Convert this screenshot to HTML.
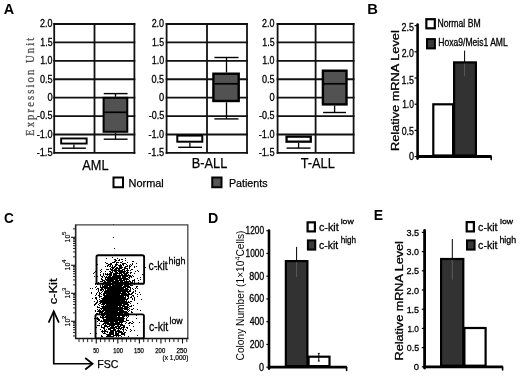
<!DOCTYPE html>
<html><head><meta charset="utf-8"><style>
html,body{margin:0;padding:0;background:#fff;overflow:hidden;}
svg{display:block;will-change:transform;}
</style></head><body>
<svg width="520" height="377" viewBox="0 0 520 377">
<rect width="520" height="377" fill="#fff"/>
<text x="3.74" y="14.3" font-size="14.3" font-weight="bold" font-family='"Liberation Sans", sans-serif' textLength="10.38" lengthAdjust="spacingAndGlyphs" fill="#000">A</text>
<line x1="53.300000000000004" y1="24.0" x2="135.3" y2="24.0" stroke="#111" stroke-width="1.8" stroke-linecap="butt"/>
<text x="40.05" y="27.3" font-size="10.4" font-family='"Liberation Sans", sans-serif' textLength="12.46" lengthAdjust="spacingAndGlyphs" fill="#000" stroke="#000" stroke-width="0.3">2.0</text>
<line x1="53.300000000000004" y1="42.415" x2="135.3" y2="42.415" stroke="#111" stroke-width="1.8" stroke-linecap="butt"/>
<text x="40.34" y="45.71" font-size="10.4" font-family='"Liberation Sans", sans-serif' textLength="12.21" lengthAdjust="spacingAndGlyphs" fill="#000" stroke="#000" stroke-width="0.3">1.5</text>
<line x1="53.300000000000004" y1="60.83" x2="135.3" y2="60.83" stroke="#111" stroke-width="1.8" stroke-linecap="butt"/>
<text x="40.13" y="64.13" font-size="10.4" font-family='"Liberation Sans", sans-serif' textLength="12.38" lengthAdjust="spacingAndGlyphs" fill="#000" stroke="#000" stroke-width="0.3">1.0</text>
<line x1="53.300000000000004" y1="79.245" x2="135.3" y2="79.245" stroke="#111" stroke-width="1.8" stroke-linecap="butt"/>
<text x="39.88" y="82.55" font-size="10.4" font-family='"Liberation Sans", sans-serif' textLength="12.69" lengthAdjust="spacingAndGlyphs" fill="#000" stroke="#000" stroke-width="0.3">0.5</text>
<line x1="53.300000000000004" y1="97.66" x2="135.3" y2="97.66" stroke="#111" stroke-width="1.8" stroke-linecap="butt"/>
<text x="47.38" y="100.96" font-size="10.4" font-family='"Liberation Sans", sans-serif' textLength="5.16" lengthAdjust="spacingAndGlyphs" fill="#000" stroke="#000" stroke-width="0.3">0</text>
<line x1="53.300000000000004" y1="116.07499999999999" x2="135.3" y2="116.07499999999999" stroke="#111" stroke-width="1.8" stroke-linecap="butt"/>
<text x="37.04" y="119.37" font-size="10.4" font-family='"Liberation Sans", sans-serif' textLength="15.55" lengthAdjust="spacingAndGlyphs" fill="#000" stroke="#000" stroke-width="0.3">-0.5</text>
<line x1="53.300000000000004" y1="134.49" x2="135.3" y2="134.49" stroke="#111" stroke-width="1.8" stroke-linecap="butt"/>
<text x="36.84" y="137.79" font-size="10.4" font-family='"Liberation Sans", sans-serif' textLength="15.71" lengthAdjust="spacingAndGlyphs" fill="#000" stroke="#000" stroke-width="0.3">-1.0</text>
<line x1="53.300000000000004" y1="152.905" x2="135.3" y2="152.905" stroke="#111" stroke-width="1.8" stroke-linecap="butt"/>
<text x="36.63" y="156.21" font-size="10.4" font-family='"Liberation Sans", sans-serif' textLength="15.97" lengthAdjust="spacingAndGlyphs" fill="#000" stroke="#000" stroke-width="0.3">-1.5</text>
<line x1="54.2" y1="23.1" x2="54.2" y2="153.805" stroke="#111" stroke-width="1.8" stroke-linecap="butt"/>
<line x1="94.5" y1="24.0" x2="94.5" y2="152.905" stroke="#111" stroke-width="1.8" stroke-linecap="butt"/>
<line x1="134.4" y1="23.1" x2="134.4" y2="153.805" stroke="#111" stroke-width="1.8" stroke-linecap="butt"/>
<line x1="165.7" y1="24.0" x2="247.9" y2="24.0" stroke="#111" stroke-width="1.8" stroke-linecap="butt"/>
<text x="151.65" y="27.3" font-size="10.4" font-family='"Liberation Sans", sans-serif' textLength="12.46" lengthAdjust="spacingAndGlyphs" fill="#000" stroke="#000" stroke-width="0.3">2.0</text>
<line x1="165.7" y1="42.415" x2="247.9" y2="42.415" stroke="#111" stroke-width="1.8" stroke-linecap="butt"/>
<text x="151.94" y="45.71" font-size="10.4" font-family='"Liberation Sans", sans-serif' textLength="12.21" lengthAdjust="spacingAndGlyphs" fill="#000" stroke="#000" stroke-width="0.3">1.5</text>
<line x1="165.7" y1="60.83" x2="247.9" y2="60.83" stroke="#111" stroke-width="1.8" stroke-linecap="butt"/>
<text x="151.73" y="64.13" font-size="10.4" font-family='"Liberation Sans", sans-serif' textLength="12.38" lengthAdjust="spacingAndGlyphs" fill="#000" stroke="#000" stroke-width="0.3">1.0</text>
<line x1="165.7" y1="79.245" x2="247.9" y2="79.245" stroke="#111" stroke-width="1.8" stroke-linecap="butt"/>
<text x="151.48" y="82.55" font-size="10.4" font-family='"Liberation Sans", sans-serif' textLength="12.69" lengthAdjust="spacingAndGlyphs" fill="#000" stroke="#000" stroke-width="0.3">0.5</text>
<line x1="165.7" y1="97.66" x2="247.9" y2="97.66" stroke="#111" stroke-width="1.8" stroke-linecap="butt"/>
<text x="158.98" y="100.96" font-size="10.4" font-family='"Liberation Sans", sans-serif' textLength="5.16" lengthAdjust="spacingAndGlyphs" fill="#000" stroke="#000" stroke-width="0.3">0</text>
<line x1="165.7" y1="116.07499999999999" x2="247.9" y2="116.07499999999999" stroke="#111" stroke-width="1.8" stroke-linecap="butt"/>
<text x="148.64" y="119.37" font-size="10.4" font-family='"Liberation Sans", sans-serif' textLength="15.55" lengthAdjust="spacingAndGlyphs" fill="#000" stroke="#000" stroke-width="0.3">-0.5</text>
<line x1="165.7" y1="134.49" x2="247.9" y2="134.49" stroke="#111" stroke-width="1.8" stroke-linecap="butt"/>
<text x="148.44" y="137.79" font-size="10.4" font-family='"Liberation Sans", sans-serif' textLength="15.71" lengthAdjust="spacingAndGlyphs" fill="#000" stroke="#000" stroke-width="0.3">-1.0</text>
<line x1="165.7" y1="152.905" x2="247.9" y2="152.905" stroke="#111" stroke-width="1.8" stroke-linecap="butt"/>
<text x="148.23" y="156.21" font-size="10.4" font-family='"Liberation Sans", sans-serif' textLength="15.97" lengthAdjust="spacingAndGlyphs" fill="#000" stroke="#000" stroke-width="0.3">-1.5</text>
<line x1="166.6" y1="23.1" x2="166.6" y2="153.805" stroke="#111" stroke-width="1.8" stroke-linecap="butt"/>
<line x1="207.0" y1="24.0" x2="207.0" y2="152.905" stroke="#111" stroke-width="1.8" stroke-linecap="butt"/>
<line x1="247.0" y1="23.1" x2="247.0" y2="153.805" stroke="#111" stroke-width="1.8" stroke-linecap="butt"/>
<line x1="276.70000000000005" y1="24.0" x2="354.5" y2="24.0" stroke="#111" stroke-width="1.8" stroke-linecap="butt"/>
<text x="262.05" y="27.3" font-size="10.4" font-family='"Liberation Sans", sans-serif' textLength="12.46" lengthAdjust="spacingAndGlyphs" fill="#000" stroke="#000" stroke-width="0.3">2.0</text>
<line x1="276.70000000000005" y1="42.415" x2="354.5" y2="42.415" stroke="#111" stroke-width="1.8" stroke-linecap="butt"/>
<text x="262.34" y="45.71" font-size="10.4" font-family='"Liberation Sans", sans-serif' textLength="12.21" lengthAdjust="spacingAndGlyphs" fill="#000" stroke="#000" stroke-width="0.3">1.5</text>
<line x1="276.70000000000005" y1="60.83" x2="354.5" y2="60.83" stroke="#111" stroke-width="1.8" stroke-linecap="butt"/>
<text x="262.13" y="64.13" font-size="10.4" font-family='"Liberation Sans", sans-serif' textLength="12.38" lengthAdjust="spacingAndGlyphs" fill="#000" stroke="#000" stroke-width="0.3">1.0</text>
<line x1="276.70000000000005" y1="79.245" x2="354.5" y2="79.245" stroke="#111" stroke-width="1.8" stroke-linecap="butt"/>
<text x="261.88" y="82.55" font-size="10.4" font-family='"Liberation Sans", sans-serif' textLength="12.69" lengthAdjust="spacingAndGlyphs" fill="#000" stroke="#000" stroke-width="0.3">0.5</text>
<line x1="276.70000000000005" y1="97.66" x2="354.5" y2="97.66" stroke="#111" stroke-width="1.8" stroke-linecap="butt"/>
<text x="269.38" y="100.96" font-size="10.4" font-family='"Liberation Sans", sans-serif' textLength="5.16" lengthAdjust="spacingAndGlyphs" fill="#000" stroke="#000" stroke-width="0.3">0</text>
<line x1="276.70000000000005" y1="116.07499999999999" x2="354.5" y2="116.07499999999999" stroke="#111" stroke-width="1.8" stroke-linecap="butt"/>
<text x="259.04" y="119.37" font-size="10.4" font-family='"Liberation Sans", sans-serif' textLength="15.55" lengthAdjust="spacingAndGlyphs" fill="#000" stroke="#000" stroke-width="0.3">-0.5</text>
<line x1="276.70000000000005" y1="134.49" x2="354.5" y2="134.49" stroke="#111" stroke-width="1.8" stroke-linecap="butt"/>
<text x="258.84" y="137.79" font-size="10.4" font-family='"Liberation Sans", sans-serif' textLength="15.71" lengthAdjust="spacingAndGlyphs" fill="#000" stroke="#000" stroke-width="0.3">-1.0</text>
<line x1="276.70000000000005" y1="152.905" x2="354.5" y2="152.905" stroke="#111" stroke-width="1.8" stroke-linecap="butt"/>
<text x="258.63" y="156.21" font-size="10.4" font-family='"Liberation Sans", sans-serif' textLength="15.97" lengthAdjust="spacingAndGlyphs" fill="#000" stroke="#000" stroke-width="0.3">-1.5</text>
<line x1="277.6" y1="23.1" x2="277.6" y2="153.805" stroke="#111" stroke-width="1.8" stroke-linecap="butt"/>
<line x1="315.6" y1="24.0" x2="315.6" y2="152.905" stroke="#111" stroke-width="1.8" stroke-linecap="butt"/>
<line x1="353.6" y1="23.1" x2="353.6" y2="153.805" stroke="#111" stroke-width="1.8" stroke-linecap="butt"/>
<line x1="73.9" y1="144.5" x2="73.9" y2="148.2" stroke="#000" stroke-width="1.3" stroke-linecap="butt"/>
<line x1="61.9" y1="148.2" x2="85.9" y2="148.2" stroke="#000" stroke-width="1.4" stroke-linecap="butt"/>
<rect x="61.15" y="138.45" width="25.50" height="5.10" fill="#fff" stroke="#000" stroke-width="1.9"/>
<line x1="115.5" y1="93.6" x2="115.5" y2="96.8" stroke="#000" stroke-width="1.3" stroke-linecap="butt"/>
<line x1="103.75" y1="93.6" x2="127.6" y2="93.6" stroke="#000" stroke-width="1.4" stroke-linecap="butt"/>
<line x1="115.5" y1="132.8" x2="115.5" y2="139.2" stroke="#000" stroke-width="1.3" stroke-linecap="butt"/>
<line x1="103.75" y1="139.2" x2="127.6" y2="139.2" stroke="#000" stroke-width="1.4" stroke-linecap="butt"/>
<rect x="103.60" y="97.80" width="23.70" height="34.00" fill="#525252" stroke="#000" stroke-width="2.0"/>
<line x1="103.6" y1="112.3" x2="127.30000000000001" y2="112.3" stroke="#000" stroke-width="1.7" stroke-linecap="butt"/>
<line x1="189.9" y1="142.7" x2="189.9" y2="147.3" stroke="#000" stroke-width="1.3" stroke-linecap="butt"/>
<line x1="178.2" y1="147.3" x2="202.0" y2="147.3" stroke="#000" stroke-width="1.4" stroke-linecap="butt"/>
<rect x="177.30" y="135.60" width="25.00" height="6.10" fill="#fff" stroke="#000" stroke-width="2.0"/>
<line x1="226.5" y1="57.5" x2="226.5" y2="72.5" stroke="#000" stroke-width="1.3" stroke-linecap="butt"/>
<line x1="214.4" y1="57.5" x2="238.5" y2="57.5" stroke="#000" stroke-width="1.4" stroke-linecap="butt"/>
<line x1="226.5" y1="102.2" x2="226.5" y2="118.9" stroke="#000" stroke-width="1.3" stroke-linecap="butt"/>
<line x1="214.4" y1="118.9" x2="238.5" y2="118.9" stroke="#000" stroke-width="1.4" stroke-linecap="butt"/>
<rect x="213.40" y="73.70" width="25.30" height="27.30" fill="#525252" stroke="#000" stroke-width="2.4"/>
<line x1="213.39999999999998" y1="83.8" x2="238.70000000000002" y2="83.8" stroke="#000" stroke-width="1.7" stroke-linecap="butt"/>
<line x1="298.6" y1="142.8" x2="298.6" y2="148.1" stroke="#000" stroke-width="1.3" stroke-linecap="butt"/>
<line x1="286.6" y1="148.1" x2="310.5" y2="148.1" stroke="#000" stroke-width="1.4" stroke-linecap="butt"/>
<rect x="286.55" y="136.65" width="24.20" height="5.00" fill="#fff" stroke="#000" stroke-width="2.3"/>
<line x1="334.6" y1="105.6" x2="334.6" y2="112.5" stroke="#000" stroke-width="1.3" stroke-linecap="butt"/>
<line x1="323.1" y1="112.5" x2="346.0" y2="112.5" stroke="#000" stroke-width="1.4" stroke-linecap="butt"/>
<rect x="322.90" y="70.70" width="23.60" height="33.70" fill="#525252" stroke="#000" stroke-width="2.4"/>
<line x1="322.9" y1="83.8" x2="346.5" y2="83.8" stroke="#000" stroke-width="1.7" stroke-linecap="butt"/>
<text x="82.25" y="169.75" font-size="15.0" font-family='"Liberation Sans", sans-serif' textLength="26.25" lengthAdjust="spacingAndGlyphs" fill="#000" stroke="#000" stroke-width="0.25">AML</text>
<text x="191.73" y="168.1" font-size="14.5" font-family='"Liberation Sans", sans-serif' textLength="35.55" lengthAdjust="spacingAndGlyphs" fill="#000" stroke="#000" stroke-width="0.25">B-ALL</text>
<text x="300.74" y="168.1" font-size="14.8" font-family='"Liberation Sans", sans-serif' textLength="34.08" lengthAdjust="spacingAndGlyphs" fill="#000" stroke="#000" stroke-width="0.25">T-ALL</text>
<g transform="translate(34.3 135.9) rotate(-90) scale(0.86 1)"><text x="0" y="0" font-size="12.4" font-family='"Liberation Serif", serif' fill="#4a4a4a" stroke="#555" stroke-width="0.3" textLength="114.2" lengthAdjust="spacing">Expression Unit</text></g>
<rect x="113.50" y="177.50" width="9.50" height="9.75" fill="#fff" stroke="#000" stroke-width="2.0"/>
<text x="128.52" y="186.6" font-size="11.6" font-family='"Liberation Sans", sans-serif' textLength="35.26" lengthAdjust="spacingAndGlyphs" fill="#000" stroke="#000" stroke-width="0.25">Normal</text>
<rect x="212.25" y="177.50" width="9.25" height="9.75" fill="#555" stroke="#000" stroke-width="2.0"/>
<text x="228.89" y="186.6" font-size="11.6" font-family='"Liberation Sans", sans-serif' textLength="38.71" lengthAdjust="spacingAndGlyphs" fill="#000" stroke="#000" stroke-width="0.25">Patients</text>
<text x="367.24" y="14.3" font-size="14.6" font-weight="bold" font-family='"Liberation Sans", sans-serif' textLength="10.69" lengthAdjust="spacingAndGlyphs" fill="#000">B</text>
<line x1="417.6" y1="24.6" x2="417.6" y2="158.6" stroke="#000" stroke-width="2.6" stroke-linecap="round"/>
<line x1="416.6" y1="156.6" x2="491.5" y2="156.6" stroke="#000" stroke-width="3.0" stroke-linecap="butt"/>
<line x1="491.2" y1="156.6" x2="491.2" y2="159.6" stroke="#000" stroke-width="1.6" stroke-linecap="round"/>
<line x1="414.6" y1="156.6" x2="417" y2="156.6" stroke="#000" stroke-width="1.2" stroke-linecap="butt"/>
<text x="408.88" y="159.6" font-size="10.2" font-family='"Liberation Sans", sans-serif' textLength="5.05" lengthAdjust="spacingAndGlyphs" fill="#000" stroke="#000" stroke-width="0.3">0</text>
<line x1="414.6" y1="130.4" x2="417" y2="130.4" stroke="#000" stroke-width="1.2" stroke-linecap="butt"/>
<text x="401.69" y="134.8" font-size="10.2" font-family='"Liberation Sans", sans-serif' textLength="12.26" lengthAdjust="spacingAndGlyphs" fill="#000" stroke="#000" stroke-width="0.3">0.5</text>
<line x1="414.6" y1="104.19999999999999" x2="417" y2="104.19999999999999" stroke="#000" stroke-width="1.2" stroke-linecap="butt"/>
<text x="402.17" y="108.2" font-size="10.2" font-family='"Liberation Sans", sans-serif' textLength="11.73" lengthAdjust="spacingAndGlyphs" fill="#000" stroke="#000" stroke-width="0.3">1.0</text>
<line x1="414.6" y1="78.0" x2="417" y2="78.0" stroke="#000" stroke-width="1.2" stroke-linecap="butt"/>
<text x="401.53" y="83.5" font-size="10.2" font-family='"Liberation Sans", sans-serif' textLength="12.43" lengthAdjust="spacingAndGlyphs" fill="#000" stroke="#000" stroke-width="0.3">1.5</text>
<line x1="414.6" y1="51.8" x2="417" y2="51.8" stroke="#000" stroke-width="1.2" stroke-linecap="butt"/>
<text x="401.76" y="56.5" font-size="10.2" font-family='"Liberation Sans", sans-serif' textLength="12.14" lengthAdjust="spacingAndGlyphs" fill="#000" stroke="#000" stroke-width="0.3">2.0</text>
<line x1="414.6" y1="25.599999999999994" x2="417" y2="25.599999999999994" stroke="#000" stroke-width="1.2" stroke-linecap="butt"/>
<text x="401.55" y="31.4" font-size="10.2" font-family='"Liberation Sans", sans-serif' textLength="12.40" lengthAdjust="spacingAndGlyphs" fill="#000" stroke="#000" stroke-width="0.3">2.5</text>
<rect x="433.30" y="104.30" width="19.80" height="51.20" fill="#fff" stroke="#000" stroke-width="2.2"/>
<line x1="464.6" y1="50.6" x2="464.6" y2="63" stroke="#000" stroke-width="1.0" stroke-linecap="butt"/>
<rect x="454.10" y="62.40" width="21.80" height="93.10" fill="#323232" stroke="#000" stroke-width="2.2"/>
<line x1="464.6" y1="63.5" x2="464.6" y2="76.3" stroke="#5a5a5a" stroke-width="1.0" stroke-linecap="butt"/>
<rect x="426.35" y="19.20" width="8.45" height="9.10" fill="#fff" stroke="#000" stroke-width="2.2"/>
<text x="437.41" y="26.9" font-size="10.5" font-family='"Liberation Sans", sans-serif' textLength="43.25" lengthAdjust="spacingAndGlyphs" fill="#000" stroke="#000" stroke-width="0.3">Normal BM</text>
<rect x="427.00" y="39.10" width="7.90" height="9.30" fill="#3a3a3a" stroke="#000" stroke-width="2.0"/>
<text x="438.32" y="46.3" font-size="10.2" font-family='"Liberation Sans", sans-serif' textLength="69.44" lengthAdjust="spacingAndGlyphs" fill="#000" stroke="#000" stroke-width="0.3">Hoxa9/Meis1 AML</text>
<text x="398.7" y="151.02" font-size="10.5" font-family='"Liberation Sans", sans-serif' textLength="120.84" lengthAdjust="spacingAndGlyphs" transform="rotate(-90 398.7 151.02)" fill="#000" stroke="#000" stroke-width="0.3">Relative mRNA Level</text>
<text x="3.96" y="222.5" font-size="14.6" font-weight="bold" font-family='"Liberation Sans", sans-serif' textLength="9.81" lengthAdjust="spacingAndGlyphs" fill="#000">C</text>
<path d="M90 288h1v1h-1zM90 333h1v1h-1zM91 292h1v1h-1zM91 293h1v1h-1zM92 288h1v1h-1zM92 298h1v1h-1zM93 273h1v1h-1zM94 272h1v1h-1zM94 276h1v1h-1zM94 301h1v1h-1zM94 304h1v1h-1zM94 305h1v1h-1zM94 318h1v1h-1zM95 271h1v1h-1zM95 283h1v1h-1zM95 284h1v1h-1zM95 287h1v1h-1zM95 295h1v1h-1zM95 297h1v1h-1zM95 298h1v1h-1zM95 303h1v1h-1zM95 304h1v1h-1zM95 310h1v1h-1zM95 311h1v1h-1zM95 317h1v1h-1zM95 323h1v1h-1zM96 276h1v1h-1zM96 283h1v1h-1zM96 286h1v1h-1zM96 289h1v1h-1zM96 293h1v1h-1zM96 294h1v1h-1zM96 297h1v1h-1zM96 298h1v1h-1zM96 299h1v1h-1zM96 302h1v1h-1zM96 303h1v1h-1zM96 313h1v1h-1zM96 314h1v1h-1zM96 318h1v1h-1zM96 327h1v1h-1zM96 333h1v1h-1zM97 264h1v1h-1zM97 276h1v1h-1zM97 284h1v1h-1zM97 288h1v1h-1zM97 292h1v1h-1zM97 300h1v1h-1zM97 301h1v1h-1zM97 302h1v1h-1zM97 306h1v1h-1zM97 307h1v1h-1zM97 309h1v1h-1zM97 311h1v1h-1zM97 313h1v1h-1zM97 317h1v1h-1zM97 318h1v1h-1zM97 319h1v1h-1zM97 321h1v1h-1zM97 325h1v1h-1zM98 282h1v1h-1zM98 288h1v1h-1zM98 289h1v1h-1zM98 290h1v1h-1zM98 291h1v1h-1zM98 295h1v1h-1zM98 304h1v1h-1zM98 307h1v1h-1zM98 310h1v1h-1zM98 311h1v1h-1zM98 314h1v1h-1zM98 318h1v1h-1zM98 319h1v1h-1zM98 320h1v1h-1zM98 325h1v1h-1zM99 283h1v1h-1zM99 292h1v1h-1zM99 293h1v1h-1zM99 294h1v1h-1zM99 295h1v1h-1zM99 296h1v1h-1zM99 297h1v1h-1zM99 299h1v1h-1zM99 301h1v1h-1zM99 303h1v1h-1zM99 305h1v1h-1zM99 307h1v1h-1zM99 309h1v1h-1zM99 310h1v1h-1zM99 311h1v1h-1zM99 312h1v1h-1zM99 313h1v1h-1zM99 319h1v1h-1zM99 320h1v1h-1zM99 323h1v1h-1zM99 325h1v1h-1zM100 270h1v1h-1zM100 272h1v1h-1zM100 274h1v1h-1zM100 275h1v1h-1zM100 281h1v1h-1zM100 283h1v1h-1zM100 285h1v1h-1zM100 286h1v1h-1zM100 287h1v1h-1zM100 289h1v1h-1zM100 290h1v1h-1zM100 293h1v1h-1zM100 296h1v1h-1zM100 300h1v1h-1zM100 301h1v1h-1zM100 302h1v1h-1zM100 303h1v1h-1zM100 308h1v1h-1zM100 310h1v1h-1zM100 311h1v1h-1zM100 312h1v1h-1zM100 316h1v1h-1zM100 317h1v1h-1zM100 321h1v1h-1zM100 329h1v1h-1zM101 269h1v1h-1zM101 271h1v1h-1zM101 276h1v1h-1zM101 278h1v1h-1zM101 279h1v1h-1zM101 281h1v1h-1zM101 287h1v1h-1zM101 288h1v1h-1zM101 289h1v1h-1zM101 290h1v1h-1zM101 292h1v1h-1zM101 294h1v1h-1zM101 296h1v1h-1zM101 298h1v1h-1zM101 300h1v1h-1zM101 301h1v1h-1zM101 302h1v1h-1zM101 304h1v1h-1zM101 306h1v1h-1zM101 308h1v1h-1zM101 309h1v1h-1zM101 311h1v1h-1zM101 312h1v1h-1zM101 313h1v1h-1zM101 314h1v1h-1zM101 315h1v1h-1zM101 317h1v1h-1zM101 320h1v1h-1zM101 321h1v1h-1zM101 325h1v1h-1zM101 326h1v1h-1zM101 327h1v1h-1zM101 331h1v1h-1zM101 335h1v1h-1zM101 336h1v1h-1zM102 276h1v1h-1zM102 277h1v1h-1zM102 279h1v1h-1zM102 280h1v1h-1zM102 281h1v1h-1zM102 283h1v1h-1zM102 284h1v1h-1zM102 285h1v1h-1zM102 286h1v1h-1zM102 287h1v1h-1zM102 288h1v1h-1zM102 289h1v1h-1zM102 291h1v1h-1zM102 298h1v1h-1zM102 299h1v1h-1zM102 300h1v1h-1zM102 301h1v1h-1zM102 302h1v1h-1zM102 303h1v1h-1zM102 304h1v1h-1zM102 306h1v1h-1zM102 307h1v1h-1zM102 308h1v1h-1zM102 310h1v1h-1zM102 311h1v1h-1zM102 312h1v1h-1zM102 313h1v1h-1zM102 314h1v1h-1zM102 315h1v1h-1zM102 316h1v1h-1zM102 317h1v1h-1zM102 318h1v1h-1zM102 321h1v1h-1zM102 324h1v1h-1zM102 327h1v1h-1zM102 330h1v1h-1zM102 331h1v1h-1zM102 332h1v1h-1zM102 336h1v1h-1zM103 273h1v1h-1zM103 274h1v1h-1zM103 275h1v1h-1zM103 280h1v1h-1zM103 282h1v1h-1zM103 283h1v1h-1zM103 284h1v1h-1zM103 286h1v1h-1zM103 287h1v1h-1zM103 289h1v1h-1zM103 290h1v1h-1zM103 293h1v1h-1zM103 294h1v1h-1zM103 295h1v1h-1zM103 297h1v1h-1zM103 298h1v1h-1zM103 299h1v1h-1zM103 300h1v1h-1zM103 301h1v1h-1zM103 302h1v1h-1zM103 303h1v1h-1zM103 304h1v1h-1zM103 305h1v1h-1zM103 306h1v1h-1zM103 307h1v1h-1zM103 308h1v1h-1zM103 309h1v1h-1zM103 310h1v1h-1zM103 311h1v1h-1zM103 313h1v1h-1zM103 314h1v1h-1zM103 315h1v1h-1zM103 316h1v1h-1zM103 317h1v1h-1zM103 318h1v1h-1zM103 319h1v1h-1zM103 320h1v1h-1zM103 321h1v1h-1zM103 323h1v1h-1zM103 324h1v1h-1zM103 327h1v1h-1zM103 328h1v1h-1zM103 331h1v1h-1zM103 333h1v1h-1zM104 276h1v1h-1zM104 280h1v1h-1zM104 281h1v1h-1zM104 282h1v1h-1zM104 283h1v1h-1zM104 285h1v1h-1zM104 286h1v1h-1zM104 287h1v1h-1zM104 288h1v1h-1zM104 291h1v1h-1zM104 292h1v1h-1zM104 293h1v1h-1zM104 294h1v1h-1zM104 295h1v1h-1zM104 296h1v1h-1zM104 297h1v1h-1zM104 298h1v1h-1zM104 299h1v1h-1zM104 300h1v1h-1zM104 301h1v1h-1zM104 302h1v1h-1zM104 303h1v1h-1zM104 304h1v1h-1zM104 306h1v1h-1zM104 307h1v1h-1zM104 308h1v1h-1zM104 309h1v1h-1zM104 310h1v1h-1zM104 312h1v1h-1zM104 313h1v1h-1zM104 314h1v1h-1zM104 315h1v1h-1zM104 317h1v1h-1zM104 319h1v1h-1zM104 320h1v1h-1zM104 321h1v1h-1zM104 322h1v1h-1zM104 323h1v1h-1zM104 325h1v1h-1zM104 326h1v1h-1zM104 327h1v1h-1zM104 328h1v1h-1zM104 329h1v1h-1zM104 330h1v1h-1zM104 331h1v1h-1zM104 332h1v1h-1zM104 333h1v1h-1zM105 262h1v1h-1zM105 266h1v1h-1zM105 271h1v1h-1zM105 273h1v1h-1zM105 274h1v1h-1zM105 277h1v1h-1zM105 278h1v1h-1zM105 279h1v1h-1zM105 281h1v1h-1zM105 282h1v1h-1zM105 283h1v1h-1zM105 284h1v1h-1zM105 285h1v1h-1zM105 286h1v1h-1zM105 287h1v1h-1zM105 288h1v1h-1zM105 289h1v1h-1zM105 290h1v1h-1zM105 291h1v1h-1zM105 292h1v1h-1zM105 293h1v1h-1zM105 295h1v1h-1zM105 296h1v1h-1zM105 297h1v1h-1zM105 298h1v1h-1zM105 299h1v1h-1zM105 300h1v1h-1zM105 301h1v1h-1zM105 302h1v1h-1zM105 303h1v1h-1zM105 305h1v1h-1zM105 306h1v1h-1zM105 307h1v1h-1zM105 308h1v1h-1zM105 309h1v1h-1zM105 310h1v1h-1zM105 311h1v1h-1zM105 312h1v1h-1zM105 313h1v1h-1zM105 314h1v1h-1zM105 316h1v1h-1zM105 317h1v1h-1zM105 319h1v1h-1zM105 320h1v1h-1zM105 321h1v1h-1zM105 322h1v1h-1zM105 323h1v1h-1zM105 324h1v1h-1zM105 325h1v1h-1zM105 326h1v1h-1zM105 330h1v1h-1zM105 331h1v1h-1zM105 333h1v1h-1zM106 258h1v1h-1zM106 263h1v1h-1zM106 269h1v1h-1zM106 274h1v1h-1zM106 276h1v1h-1zM106 277h1v1h-1zM106 279h1v1h-1zM106 280h1v1h-1zM106 282h1v1h-1zM106 283h1v1h-1zM106 284h1v1h-1zM106 285h1v1h-1zM106 286h1v1h-1zM106 287h1v1h-1zM106 288h1v1h-1zM106 290h1v1h-1zM106 291h1v1h-1zM106 292h1v1h-1zM106 293h1v1h-1zM106 294h1v1h-1zM106 295h1v1h-1zM106 296h1v1h-1zM106 297h1v1h-1zM106 298h1v1h-1zM106 299h1v1h-1zM106 300h1v1h-1zM106 301h1v1h-1zM106 302h1v1h-1zM106 303h1v1h-1zM106 304h1v1h-1zM106 305h1v1h-1zM106 306h1v1h-1zM106 307h1v1h-1zM106 308h1v1h-1zM106 309h1v1h-1zM106 310h1v1h-1zM106 311h1v1h-1zM106 312h1v1h-1zM106 313h1v1h-1zM106 314h1v1h-1zM106 315h1v1h-1zM106 316h1v1h-1zM106 317h1v1h-1zM106 318h1v1h-1zM106 319h1v1h-1zM106 320h1v1h-1zM106 321h1v1h-1zM106 322h1v1h-1zM106 323h1v1h-1zM106 325h1v1h-1zM106 326h1v1h-1zM106 329h1v1h-1zM106 331h1v1h-1zM106 334h1v1h-1zM106 336h1v1h-1zM107 263h1v1h-1zM107 265h1v1h-1zM107 266h1v1h-1zM107 269h1v1h-1zM107 273h1v1h-1zM107 274h1v1h-1zM107 275h1v1h-1zM107 277h1v1h-1zM107 278h1v1h-1zM107 279h1v1h-1zM107 280h1v1h-1zM107 281h1v1h-1zM107 282h1v1h-1zM107 283h1v1h-1zM107 284h1v1h-1zM107 285h1v1h-1zM107 286h1v1h-1zM107 287h1v1h-1zM107 288h1v1h-1zM107 289h1v1h-1zM107 290h1v1h-1zM107 291h1v1h-1zM107 292h1v1h-1zM107 293h1v1h-1zM107 294h1v1h-1zM107 295h1v1h-1zM107 296h1v1h-1zM107 297h1v1h-1zM107 298h1v1h-1zM107 299h1v1h-1zM107 300h1v1h-1zM107 301h1v1h-1zM107 302h1v1h-1zM107 303h1v1h-1zM107 304h1v1h-1zM107 305h1v1h-1zM107 306h1v1h-1zM107 307h1v1h-1zM107 308h1v1h-1zM107 309h1v1h-1zM107 310h1v1h-1zM107 311h1v1h-1zM107 312h1v1h-1zM107 313h1v1h-1zM107 314h1v1h-1zM107 315h1v1h-1zM107 316h1v1h-1zM107 317h1v1h-1zM107 318h1v1h-1zM107 319h1v1h-1zM107 320h1v1h-1zM107 321h1v1h-1zM107 322h1v1h-1zM107 323h1v1h-1zM107 324h1v1h-1zM107 326h1v1h-1zM107 327h1v1h-1zM107 331h1v1h-1zM107 332h1v1h-1zM107 334h1v1h-1zM107 335h1v1h-1zM107 336h1v1h-1zM108 264h1v1h-1zM108 265h1v1h-1zM108 269h1v1h-1zM108 274h1v1h-1zM108 276h1v1h-1zM108 277h1v1h-1zM108 278h1v1h-1zM108 279h1v1h-1zM108 280h1v1h-1zM108 281h1v1h-1zM108 282h1v1h-1zM108 283h1v1h-1zM108 284h1v1h-1zM108 285h1v1h-1zM108 287h1v1h-1zM108 288h1v1h-1zM108 289h1v1h-1zM108 290h1v1h-1zM108 291h1v1h-1zM108 292h1v1h-1zM108 293h1v1h-1zM108 294h1v1h-1zM108 295h1v1h-1zM108 296h1v1h-1zM108 297h1v1h-1zM108 298h1v1h-1zM108 299h1v1h-1zM108 300h1v1h-1zM108 301h1v1h-1zM108 302h1v1h-1zM108 303h1v1h-1zM108 304h1v1h-1zM108 305h1v1h-1zM108 306h1v1h-1zM108 307h1v1h-1zM108 308h1v1h-1zM108 309h1v1h-1zM108 310h1v1h-1zM108 311h1v1h-1zM108 312h1v1h-1zM108 313h1v1h-1zM108 314h1v1h-1zM108 315h1v1h-1zM108 316h1v1h-1zM108 317h1v1h-1zM108 318h1v1h-1zM108 319h1v1h-1zM108 320h1v1h-1zM108 321h1v1h-1zM108 322h1v1h-1zM108 323h1v1h-1zM108 324h1v1h-1zM108 326h1v1h-1zM108 328h1v1h-1zM108 329h1v1h-1zM108 334h1v1h-1zM108 335h1v1h-1zM108 336h1v1h-1zM109 264h1v1h-1zM109 266h1v1h-1zM109 271h1v1h-1zM109 273h1v1h-1zM109 274h1v1h-1zM109 275h1v1h-1zM109 276h1v1h-1zM109 277h1v1h-1zM109 278h1v1h-1zM109 279h1v1h-1zM109 280h1v1h-1zM109 281h1v1h-1zM109 282h1v1h-1zM109 283h1v1h-1zM109 284h1v1h-1zM109 285h1v1h-1zM109 286h1v1h-1zM109 287h1v1h-1zM109 288h1v1h-1zM109 289h1v1h-1zM109 290h1v1h-1zM109 291h1v1h-1zM109 292h1v1h-1zM109 293h1v1h-1zM109 294h1v1h-1zM109 295h1v1h-1zM109 296h1v1h-1zM109 297h1v1h-1zM109 298h1v1h-1zM109 299h1v1h-1zM109 300h1v1h-1zM109 301h1v1h-1zM109 302h1v1h-1zM109 303h1v1h-1zM109 304h1v1h-1zM109 305h1v1h-1zM109 306h1v1h-1zM109 307h1v1h-1zM109 308h1v1h-1zM109 309h1v1h-1zM109 310h1v1h-1zM109 311h1v1h-1zM109 312h1v1h-1zM109 313h1v1h-1zM109 314h1v1h-1zM109 315h1v1h-1zM109 316h1v1h-1zM109 317h1v1h-1zM109 318h1v1h-1zM109 319h1v1h-1zM109 320h1v1h-1zM109 321h1v1h-1zM109 323h1v1h-1zM109 324h1v1h-1zM109 325h1v1h-1zM109 326h1v1h-1zM109 328h1v1h-1zM109 329h1v1h-1zM109 332h1v1h-1zM109 333h1v1h-1zM109 334h1v1h-1zM109 335h1v1h-1zM109 336h1v1h-1zM110 263h1v1h-1zM110 264h1v1h-1zM110 265h1v1h-1zM110 266h1v1h-1zM110 268h1v1h-1zM110 269h1v1h-1zM110 271h1v1h-1zM110 272h1v1h-1zM110 273h1v1h-1zM110 274h1v1h-1zM110 275h1v1h-1zM110 276h1v1h-1zM110 277h1v1h-1zM110 278h1v1h-1zM110 279h1v1h-1zM110 280h1v1h-1zM110 281h1v1h-1zM110 282h1v1h-1zM110 283h1v1h-1zM110 284h1v1h-1zM110 285h1v1h-1zM110 286h1v1h-1zM110 287h1v1h-1zM110 288h1v1h-1zM110 289h1v1h-1zM110 290h1v1h-1zM110 291h1v1h-1zM110 292h1v1h-1zM110 293h1v1h-1zM110 294h1v1h-1zM110 295h1v1h-1zM110 296h1v1h-1zM110 297h1v1h-1zM110 298h1v1h-1zM110 299h1v1h-1zM110 300h1v1h-1zM110 301h1v1h-1zM110 302h1v1h-1zM110 303h1v1h-1zM110 304h1v1h-1zM110 305h1v1h-1zM110 306h1v1h-1zM110 307h1v1h-1zM110 308h1v1h-1zM110 309h1v1h-1zM110 310h1v1h-1zM110 311h1v1h-1zM110 312h1v1h-1zM110 313h1v1h-1zM110 314h1v1h-1zM110 315h1v1h-1zM110 316h1v1h-1zM110 317h1v1h-1zM110 318h1v1h-1zM110 319h1v1h-1zM110 320h1v1h-1zM110 321h1v1h-1zM110 322h1v1h-1zM110 323h1v1h-1zM110 324h1v1h-1zM110 325h1v1h-1zM110 327h1v1h-1zM110 328h1v1h-1zM110 329h1v1h-1zM110 330h1v1h-1zM110 331h1v1h-1zM110 332h1v1h-1zM110 333h1v1h-1zM110 334h1v1h-1zM110 335h1v1h-1zM110 336h1v1h-1zM111 263h1v1h-1zM111 264h1v1h-1zM111 267h1v1h-1zM111 269h1v1h-1zM111 270h1v1h-1zM111 272h1v1h-1zM111 273h1v1h-1zM111 274h1v1h-1zM111 275h1v1h-1zM111 277h1v1h-1zM111 278h1v1h-1zM111 279h1v1h-1zM111 280h1v1h-1zM111 281h1v1h-1zM111 283h1v1h-1zM111 284h1v1h-1zM111 286h1v1h-1zM111 287h1v1h-1zM111 288h1v1h-1zM111 289h1v1h-1zM111 290h1v1h-1zM111 291h1v1h-1zM111 292h1v1h-1zM111 293h1v1h-1zM111 294h1v1h-1zM111 295h1v1h-1zM111 296h1v1h-1zM111 297h1v1h-1zM111 298h1v1h-1zM111 299h1v1h-1zM111 300h1v1h-1zM111 301h1v1h-1zM111 302h1v1h-1zM111 303h1v1h-1zM111 304h1v1h-1zM111 305h1v1h-1zM111 306h1v1h-1zM111 307h1v1h-1zM111 308h1v1h-1zM111 309h1v1h-1zM111 310h1v1h-1zM111 311h1v1h-1zM111 312h1v1h-1zM111 313h1v1h-1zM111 314h1v1h-1zM111 315h1v1h-1zM111 316h1v1h-1zM111 317h1v1h-1zM111 318h1v1h-1zM111 319h1v1h-1zM111 320h1v1h-1zM111 321h1v1h-1zM111 322h1v1h-1zM111 323h1v1h-1zM111 324h1v1h-1zM111 325h1v1h-1zM111 326h1v1h-1zM111 327h1v1h-1zM111 328h1v1h-1zM111 330h1v1h-1zM111 331h1v1h-1zM111 332h1v1h-1zM111 333h1v1h-1zM111 334h1v1h-1zM111 336h1v1h-1zM112 257h1v1h-1zM112 262h1v1h-1zM112 265h1v1h-1zM112 266h1v1h-1zM112 267h1v1h-1zM112 268h1v1h-1zM112 269h1v1h-1zM112 270h1v1h-1zM112 271h1v1h-1zM112 272h1v1h-1zM112 276h1v1h-1zM112 277h1v1h-1zM112 278h1v1h-1zM112 279h1v1h-1zM112 280h1v1h-1zM112 281h1v1h-1zM112 282h1v1h-1zM112 283h1v1h-1zM112 284h1v1h-1zM112 285h1v1h-1zM112 286h1v1h-1zM112 287h1v1h-1zM112 288h1v1h-1zM112 289h1v1h-1zM112 290h1v1h-1zM112 291h1v1h-1zM112 292h1v1h-1zM112 293h1v1h-1zM112 294h1v1h-1zM112 295h1v1h-1zM112 296h1v1h-1zM112 297h1v1h-1zM112 298h1v1h-1zM112 299h1v1h-1zM112 300h1v1h-1zM112 301h1v1h-1zM112 302h1v1h-1zM112 303h1v1h-1zM112 304h1v1h-1zM112 305h1v1h-1zM112 306h1v1h-1zM112 307h1v1h-1zM112 308h1v1h-1zM112 309h1v1h-1zM112 310h1v1h-1zM112 311h1v1h-1zM112 312h1v1h-1zM112 313h1v1h-1zM112 314h1v1h-1zM112 315h1v1h-1zM112 316h1v1h-1zM112 317h1v1h-1zM112 318h1v1h-1zM112 319h1v1h-1zM112 320h1v1h-1zM112 321h1v1h-1zM112 322h1v1h-1zM112 323h1v1h-1zM112 324h1v1h-1zM112 325h1v1h-1zM112 326h1v1h-1zM112 327h1v1h-1zM112 328h1v1h-1zM112 330h1v1h-1zM112 331h1v1h-1zM112 332h1v1h-1zM112 333h1v1h-1zM112 334h1v1h-1zM112 336h1v1h-1zM113 224h1v1h-1zM113 237h1v1h-1zM113 262h1v1h-1zM113 267h1v1h-1zM113 268h1v1h-1zM113 270h1v1h-1zM113 273h1v1h-1zM113 274h1v1h-1zM113 275h1v1h-1zM113 276h1v1h-1zM113 277h1v1h-1zM113 278h1v1h-1zM113 279h1v1h-1zM113 280h1v1h-1zM113 281h1v1h-1zM113 282h1v1h-1zM113 283h1v1h-1zM113 284h1v1h-1zM113 285h1v1h-1zM113 286h1v1h-1zM113 287h1v1h-1zM113 288h1v1h-1zM113 289h1v1h-1zM113 290h1v1h-1zM113 291h1v1h-1zM113 292h1v1h-1zM113 293h1v1h-1zM113 294h1v1h-1zM113 295h1v1h-1zM113 296h1v1h-1zM113 297h1v1h-1zM113 298h1v1h-1zM113 299h1v1h-1zM113 300h1v1h-1zM113 301h1v1h-1zM113 302h1v1h-1zM113 303h1v1h-1zM113 304h1v1h-1zM113 305h1v1h-1zM113 306h1v1h-1zM113 307h1v1h-1zM113 308h1v1h-1zM113 309h1v1h-1zM113 310h1v1h-1zM113 311h1v1h-1zM113 312h1v1h-1zM113 313h1v1h-1zM113 315h1v1h-1zM113 316h1v1h-1zM113 317h1v1h-1zM113 318h1v1h-1zM113 319h1v1h-1zM113 320h1v1h-1zM113 321h1v1h-1zM113 322h1v1h-1zM113 323h1v1h-1zM113 324h1v1h-1zM113 325h1v1h-1zM113 326h1v1h-1zM113 327h1v1h-1zM113 328h1v1h-1zM113 329h1v1h-1zM113 330h1v1h-1zM113 331h1v1h-1zM113 332h1v1h-1zM113 333h1v1h-1zM113 334h1v1h-1zM113 335h1v1h-1zM113 336h1v1h-1zM114 248h1v1h-1zM114 259h1v1h-1zM114 261h1v1h-1zM114 262h1v1h-1zM114 266h1v1h-1zM114 267h1v1h-1zM114 269h1v1h-1zM114 270h1v1h-1zM114 271h1v1h-1zM114 273h1v1h-1zM114 274h1v1h-1zM114 275h1v1h-1zM114 276h1v1h-1zM114 277h1v1h-1zM114 278h1v1h-1zM114 279h1v1h-1zM114 281h1v1h-1zM114 282h1v1h-1zM114 283h1v1h-1zM114 285h1v1h-1zM114 286h1v1h-1zM114 287h1v1h-1zM114 288h1v1h-1zM114 289h1v1h-1zM114 290h1v1h-1zM114 291h1v1h-1zM114 292h1v1h-1zM114 293h1v1h-1zM114 294h1v1h-1zM114 295h1v1h-1zM114 296h1v1h-1zM114 297h1v1h-1zM114 298h1v1h-1zM114 299h1v1h-1zM114 300h1v1h-1zM114 301h1v1h-1zM114 302h1v1h-1zM114 303h1v1h-1zM114 304h1v1h-1zM114 305h1v1h-1zM114 306h1v1h-1zM114 307h1v1h-1zM114 308h1v1h-1zM114 309h1v1h-1zM114 310h1v1h-1zM114 311h1v1h-1zM114 312h1v1h-1zM114 313h1v1h-1zM114 314h1v1h-1zM114 315h1v1h-1zM114 316h1v1h-1zM114 317h1v1h-1zM114 318h1v1h-1zM114 319h1v1h-1zM114 320h1v1h-1zM114 321h1v1h-1zM114 323h1v1h-1zM114 324h1v1h-1zM114 325h1v1h-1zM114 327h1v1h-1zM114 328h1v1h-1zM114 329h1v1h-1zM114 330h1v1h-1zM114 335h1v1h-1zM115 259h1v1h-1zM115 260h1v1h-1zM115 261h1v1h-1zM115 264h1v1h-1zM115 265h1v1h-1zM115 266h1v1h-1zM115 268h1v1h-1zM115 269h1v1h-1zM115 270h1v1h-1zM115 271h1v1h-1zM115 272h1v1h-1zM115 273h1v1h-1zM115 274h1v1h-1zM115 275h1v1h-1zM115 276h1v1h-1zM115 277h1v1h-1zM115 278h1v1h-1zM115 279h1v1h-1zM115 280h1v1h-1zM115 281h1v1h-1zM115 282h1v1h-1zM115 283h1v1h-1zM115 284h1v1h-1zM115 285h1v1h-1zM115 286h1v1h-1zM115 287h1v1h-1zM115 288h1v1h-1zM115 289h1v1h-1zM115 290h1v1h-1zM115 291h1v1h-1zM115 292h1v1h-1zM115 293h1v1h-1zM115 294h1v1h-1zM115 295h1v1h-1zM115 296h1v1h-1zM115 297h1v1h-1zM115 298h1v1h-1zM115 299h1v1h-1zM115 300h1v1h-1zM115 301h1v1h-1zM115 302h1v1h-1zM115 303h1v1h-1zM115 304h1v1h-1zM115 305h1v1h-1zM115 306h1v1h-1zM115 307h1v1h-1zM115 308h1v1h-1zM115 309h1v1h-1zM115 310h1v1h-1zM115 311h1v1h-1zM115 312h1v1h-1zM115 313h1v1h-1zM115 314h1v1h-1zM115 315h1v1h-1zM115 316h1v1h-1zM115 317h1v1h-1zM115 318h1v1h-1zM115 319h1v1h-1zM115 320h1v1h-1zM115 321h1v1h-1zM115 322h1v1h-1zM115 323h1v1h-1zM115 324h1v1h-1zM115 326h1v1h-1zM115 327h1v1h-1zM115 329h1v1h-1zM115 330h1v1h-1zM115 331h1v1h-1zM115 332h1v1h-1zM115 333h1v1h-1zM115 334h1v1h-1zM115 335h1v1h-1zM116 260h1v1h-1zM116 262h1v1h-1zM116 263h1v1h-1zM116 264h1v1h-1zM116 265h1v1h-1zM116 267h1v1h-1zM116 268h1v1h-1zM116 269h1v1h-1zM116 270h1v1h-1zM116 271h1v1h-1zM116 272h1v1h-1zM116 273h1v1h-1zM116 274h1v1h-1zM116 275h1v1h-1zM116 276h1v1h-1zM116 277h1v1h-1zM116 278h1v1h-1zM116 279h1v1h-1zM116 280h1v1h-1zM116 281h1v1h-1zM116 282h1v1h-1zM116 283h1v1h-1zM116 284h1v1h-1zM116 285h1v1h-1zM116 286h1v1h-1zM116 287h1v1h-1zM116 288h1v1h-1zM116 289h1v1h-1zM116 290h1v1h-1zM116 291h1v1h-1zM116 292h1v1h-1zM116 293h1v1h-1zM116 294h1v1h-1zM116 295h1v1h-1zM116 296h1v1h-1zM116 297h1v1h-1zM116 298h1v1h-1zM116 299h1v1h-1zM116 300h1v1h-1zM116 301h1v1h-1zM116 302h1v1h-1zM116 303h1v1h-1zM116 304h1v1h-1zM116 305h1v1h-1zM116 306h1v1h-1zM116 307h1v1h-1zM116 308h1v1h-1zM116 309h1v1h-1zM116 310h1v1h-1zM116 311h1v1h-1zM116 312h1v1h-1zM116 313h1v1h-1zM116 314h1v1h-1zM116 315h1v1h-1zM116 316h1v1h-1zM116 317h1v1h-1zM116 318h1v1h-1zM116 319h1v1h-1zM116 320h1v1h-1zM116 321h1v1h-1zM116 322h1v1h-1zM116 323h1v1h-1zM116 324h1v1h-1zM116 326h1v1h-1zM116 327h1v1h-1zM116 328h1v1h-1zM116 331h1v1h-1zM116 332h1v1h-1zM116 333h1v1h-1zM116 334h1v1h-1zM116 335h1v1h-1zM116 336h1v1h-1zM117 258h1v1h-1zM117 262h1v1h-1zM117 264h1v1h-1zM117 267h1v1h-1zM117 268h1v1h-1zM117 270h1v1h-1zM117 272h1v1h-1zM117 273h1v1h-1zM117 275h1v1h-1zM117 276h1v1h-1zM117 277h1v1h-1zM117 278h1v1h-1zM117 279h1v1h-1zM117 280h1v1h-1zM117 281h1v1h-1zM117 282h1v1h-1zM117 283h1v1h-1zM117 284h1v1h-1zM117 285h1v1h-1zM117 286h1v1h-1zM117 287h1v1h-1zM117 288h1v1h-1zM117 289h1v1h-1zM117 290h1v1h-1zM117 291h1v1h-1zM117 292h1v1h-1zM117 293h1v1h-1zM117 294h1v1h-1zM117 295h1v1h-1zM117 296h1v1h-1zM117 297h1v1h-1zM117 298h1v1h-1zM117 299h1v1h-1zM117 300h1v1h-1zM117 301h1v1h-1zM117 302h1v1h-1zM117 303h1v1h-1zM117 304h1v1h-1zM117 305h1v1h-1zM117 306h1v1h-1zM117 307h1v1h-1zM117 308h1v1h-1zM117 309h1v1h-1zM117 310h1v1h-1zM117 311h1v1h-1zM117 312h1v1h-1zM117 313h1v1h-1zM117 314h1v1h-1zM117 315h1v1h-1zM117 317h1v1h-1zM117 318h1v1h-1zM117 319h1v1h-1zM117 320h1v1h-1zM117 321h1v1h-1zM117 322h1v1h-1zM117 323h1v1h-1zM117 324h1v1h-1zM117 325h1v1h-1zM117 326h1v1h-1zM117 328h1v1h-1zM117 330h1v1h-1zM117 331h1v1h-1zM117 333h1v1h-1zM117 334h1v1h-1zM117 335h1v1h-1zM118 260h1v1h-1zM118 262h1v1h-1zM118 265h1v1h-1zM118 268h1v1h-1zM118 269h1v1h-1zM118 270h1v1h-1zM118 271h1v1h-1zM118 273h1v1h-1zM118 275h1v1h-1zM118 276h1v1h-1zM118 277h1v1h-1zM118 278h1v1h-1zM118 280h1v1h-1zM118 281h1v1h-1zM118 282h1v1h-1zM118 283h1v1h-1zM118 284h1v1h-1zM118 285h1v1h-1zM118 286h1v1h-1zM118 287h1v1h-1zM118 288h1v1h-1zM118 289h1v1h-1zM118 290h1v1h-1zM118 291h1v1h-1zM118 292h1v1h-1zM118 293h1v1h-1zM118 294h1v1h-1zM118 295h1v1h-1zM118 296h1v1h-1zM118 297h1v1h-1zM118 298h1v1h-1zM118 299h1v1h-1zM118 300h1v1h-1zM118 301h1v1h-1zM118 302h1v1h-1zM118 303h1v1h-1zM118 304h1v1h-1zM118 305h1v1h-1zM118 307h1v1h-1zM118 308h1v1h-1zM118 309h1v1h-1zM118 310h1v1h-1zM118 312h1v1h-1zM118 313h1v1h-1zM118 314h1v1h-1zM118 315h1v1h-1zM118 316h1v1h-1zM118 317h1v1h-1zM118 318h1v1h-1zM118 319h1v1h-1zM118 320h1v1h-1zM118 322h1v1h-1zM118 323h1v1h-1zM118 324h1v1h-1zM118 325h1v1h-1zM118 326h1v1h-1zM118 327h1v1h-1zM118 328h1v1h-1zM118 329h1v1h-1zM118 330h1v1h-1zM118 331h1v1h-1zM118 332h1v1h-1zM118 333h1v1h-1zM118 334h1v1h-1zM118 335h1v1h-1zM118 336h1v1h-1zM119 259h1v1h-1zM119 260h1v1h-1zM119 265h1v1h-1zM119 266h1v1h-1zM119 267h1v1h-1zM119 268h1v1h-1zM119 269h1v1h-1zM119 270h1v1h-1zM119 271h1v1h-1zM119 272h1v1h-1zM119 273h1v1h-1zM119 274h1v1h-1zM119 275h1v1h-1zM119 276h1v1h-1zM119 277h1v1h-1zM119 278h1v1h-1zM119 279h1v1h-1zM119 280h1v1h-1zM119 282h1v1h-1zM119 283h1v1h-1zM119 284h1v1h-1zM119 285h1v1h-1zM119 286h1v1h-1zM119 287h1v1h-1zM119 288h1v1h-1zM119 289h1v1h-1zM119 290h1v1h-1zM119 291h1v1h-1zM119 292h1v1h-1zM119 293h1v1h-1zM119 294h1v1h-1zM119 295h1v1h-1zM119 296h1v1h-1zM119 297h1v1h-1zM119 298h1v1h-1zM119 299h1v1h-1zM119 300h1v1h-1zM119 301h1v1h-1zM119 302h1v1h-1zM119 303h1v1h-1zM119 304h1v1h-1zM119 305h1v1h-1zM119 306h1v1h-1zM119 307h1v1h-1zM119 308h1v1h-1zM119 309h1v1h-1zM119 310h1v1h-1zM119 311h1v1h-1zM119 312h1v1h-1zM119 313h1v1h-1zM119 315h1v1h-1zM119 316h1v1h-1zM119 317h1v1h-1zM119 318h1v1h-1zM119 319h1v1h-1zM119 320h1v1h-1zM119 321h1v1h-1zM119 322h1v1h-1zM119 323h1v1h-1zM119 324h1v1h-1zM119 326h1v1h-1zM119 327h1v1h-1zM119 328h1v1h-1zM119 330h1v1h-1zM119 331h1v1h-1zM119 332h1v1h-1zM119 335h1v1h-1zM120 262h1v1h-1zM120 264h1v1h-1zM120 265h1v1h-1zM120 266h1v1h-1zM120 267h1v1h-1zM120 268h1v1h-1zM120 270h1v1h-1zM120 271h1v1h-1zM120 272h1v1h-1zM120 273h1v1h-1zM120 275h1v1h-1zM120 276h1v1h-1zM120 277h1v1h-1zM120 278h1v1h-1zM120 279h1v1h-1zM120 280h1v1h-1zM120 281h1v1h-1zM120 282h1v1h-1zM120 283h1v1h-1zM120 284h1v1h-1zM120 285h1v1h-1zM120 286h1v1h-1zM120 287h1v1h-1zM120 288h1v1h-1zM120 289h1v1h-1zM120 290h1v1h-1zM120 291h1v1h-1zM120 292h1v1h-1zM120 293h1v1h-1zM120 295h1v1h-1zM120 296h1v1h-1zM120 297h1v1h-1zM120 298h1v1h-1zM120 299h1v1h-1zM120 300h1v1h-1zM120 301h1v1h-1zM120 302h1v1h-1zM120 303h1v1h-1zM120 304h1v1h-1zM120 305h1v1h-1zM120 306h1v1h-1zM120 307h1v1h-1zM120 308h1v1h-1zM120 309h1v1h-1zM120 310h1v1h-1zM120 311h1v1h-1zM120 312h1v1h-1zM120 313h1v1h-1zM120 314h1v1h-1zM120 315h1v1h-1zM120 317h1v1h-1zM120 318h1v1h-1zM120 319h1v1h-1zM120 320h1v1h-1zM120 321h1v1h-1zM120 322h1v1h-1zM120 324h1v1h-1zM120 325h1v1h-1zM120 326h1v1h-1zM120 328h1v1h-1zM120 329h1v1h-1zM120 331h1v1h-1zM120 332h1v1h-1zM120 335h1v1h-1zM121 259h1v1h-1zM121 262h1v1h-1zM121 265h1v1h-1zM121 266h1v1h-1zM121 267h1v1h-1zM121 268h1v1h-1zM121 270h1v1h-1zM121 271h1v1h-1zM121 272h1v1h-1zM121 273h1v1h-1zM121 274h1v1h-1zM121 275h1v1h-1zM121 278h1v1h-1zM121 279h1v1h-1zM121 280h1v1h-1zM121 281h1v1h-1zM121 282h1v1h-1zM121 283h1v1h-1zM121 284h1v1h-1zM121 285h1v1h-1zM121 286h1v1h-1zM121 287h1v1h-1zM121 288h1v1h-1zM121 289h1v1h-1zM121 290h1v1h-1zM121 291h1v1h-1zM121 293h1v1h-1zM121 294h1v1h-1zM121 295h1v1h-1zM121 296h1v1h-1zM121 297h1v1h-1zM121 298h1v1h-1zM121 299h1v1h-1zM121 300h1v1h-1zM121 301h1v1h-1zM121 302h1v1h-1zM121 303h1v1h-1zM121 304h1v1h-1zM121 305h1v1h-1zM121 307h1v1h-1zM121 308h1v1h-1zM121 309h1v1h-1zM121 310h1v1h-1zM121 311h1v1h-1zM121 312h1v1h-1zM121 313h1v1h-1zM121 314h1v1h-1zM121 315h1v1h-1zM121 317h1v1h-1zM121 318h1v1h-1zM121 319h1v1h-1zM121 320h1v1h-1zM121 321h1v1h-1zM121 322h1v1h-1zM121 323h1v1h-1zM121 324h1v1h-1zM121 325h1v1h-1zM121 327h1v1h-1zM121 328h1v1h-1zM121 331h1v1h-1zM121 332h1v1h-1zM121 333h1v1h-1zM121 334h1v1h-1zM121 336h1v1h-1zM122 259h1v1h-1zM122 261h1v1h-1zM122 263h1v1h-1zM122 264h1v1h-1zM122 267h1v1h-1zM122 269h1v1h-1zM122 270h1v1h-1zM122 271h1v1h-1zM122 272h1v1h-1zM122 274h1v1h-1zM122 275h1v1h-1zM122 276h1v1h-1zM122 277h1v1h-1zM122 278h1v1h-1zM122 280h1v1h-1zM122 281h1v1h-1zM122 282h1v1h-1zM122 283h1v1h-1zM122 284h1v1h-1zM122 285h1v1h-1zM122 287h1v1h-1zM122 288h1v1h-1zM122 289h1v1h-1zM122 290h1v1h-1zM122 291h1v1h-1zM122 292h1v1h-1zM122 293h1v1h-1zM122 294h1v1h-1zM122 295h1v1h-1zM122 296h1v1h-1zM122 297h1v1h-1zM122 298h1v1h-1zM122 299h1v1h-1zM122 300h1v1h-1zM122 301h1v1h-1zM122 302h1v1h-1zM122 303h1v1h-1zM122 305h1v1h-1zM122 306h1v1h-1zM122 307h1v1h-1zM122 308h1v1h-1zM122 309h1v1h-1zM122 310h1v1h-1zM122 311h1v1h-1zM122 312h1v1h-1zM122 313h1v1h-1zM122 314h1v1h-1zM122 315h1v1h-1zM122 316h1v1h-1zM122 317h1v1h-1zM122 318h1v1h-1zM122 319h1v1h-1zM122 320h1v1h-1zM122 321h1v1h-1zM122 322h1v1h-1zM122 324h1v1h-1zM122 325h1v1h-1zM122 327h1v1h-1zM122 329h1v1h-1zM122 332h1v1h-1zM122 333h1v1h-1zM122 334h1v1h-1zM123 263h1v1h-1zM123 264h1v1h-1zM123 265h1v1h-1zM123 269h1v1h-1zM123 271h1v1h-1zM123 272h1v1h-1zM123 273h1v1h-1zM123 275h1v1h-1zM123 276h1v1h-1zM123 277h1v1h-1zM123 278h1v1h-1zM123 279h1v1h-1zM123 280h1v1h-1zM123 282h1v1h-1zM123 283h1v1h-1zM123 286h1v1h-1zM123 287h1v1h-1zM123 288h1v1h-1zM123 289h1v1h-1zM123 290h1v1h-1zM123 291h1v1h-1zM123 292h1v1h-1zM123 293h1v1h-1zM123 294h1v1h-1zM123 295h1v1h-1zM123 296h1v1h-1zM123 297h1v1h-1zM123 298h1v1h-1zM123 299h1v1h-1zM123 300h1v1h-1zM123 301h1v1h-1zM123 302h1v1h-1zM123 303h1v1h-1zM123 304h1v1h-1zM123 305h1v1h-1zM123 306h1v1h-1zM123 308h1v1h-1zM123 310h1v1h-1zM123 311h1v1h-1zM123 312h1v1h-1zM123 314h1v1h-1zM123 315h1v1h-1zM123 316h1v1h-1zM123 317h1v1h-1zM123 318h1v1h-1zM123 319h1v1h-1zM123 320h1v1h-1zM123 321h1v1h-1zM123 325h1v1h-1zM123 326h1v1h-1zM123 327h1v1h-1zM123 328h1v1h-1zM123 329h1v1h-1zM123 330h1v1h-1zM123 331h1v1h-1zM123 333h1v1h-1zM123 334h1v1h-1zM124 263h1v1h-1zM124 267h1v1h-1zM124 268h1v1h-1zM124 269h1v1h-1zM124 270h1v1h-1zM124 271h1v1h-1zM124 272h1v1h-1zM124 273h1v1h-1zM124 274h1v1h-1zM124 275h1v1h-1zM124 276h1v1h-1zM124 277h1v1h-1zM124 278h1v1h-1zM124 279h1v1h-1zM124 280h1v1h-1zM124 281h1v1h-1zM124 282h1v1h-1zM124 283h1v1h-1zM124 284h1v1h-1zM124 285h1v1h-1zM124 286h1v1h-1zM124 287h1v1h-1zM124 289h1v1h-1zM124 290h1v1h-1zM124 291h1v1h-1zM124 292h1v1h-1zM124 293h1v1h-1zM124 294h1v1h-1zM124 295h1v1h-1zM124 297h1v1h-1zM124 298h1v1h-1zM124 299h1v1h-1zM124 300h1v1h-1zM124 301h1v1h-1zM124 302h1v1h-1zM124 303h1v1h-1zM124 304h1v1h-1zM124 305h1v1h-1zM124 306h1v1h-1zM124 307h1v1h-1zM124 308h1v1h-1zM124 309h1v1h-1zM124 311h1v1h-1zM124 312h1v1h-1zM124 313h1v1h-1zM124 314h1v1h-1zM124 315h1v1h-1zM124 316h1v1h-1zM124 318h1v1h-1zM124 321h1v1h-1zM124 325h1v1h-1zM124 326h1v1h-1zM124 327h1v1h-1zM124 332h1v1h-1zM124 333h1v1h-1zM124 334h1v1h-1zM124 335h1v1h-1zM125 258h1v1h-1zM125 260h1v1h-1zM125 263h1v1h-1zM125 266h1v1h-1zM125 267h1v1h-1zM125 268h1v1h-1zM125 271h1v1h-1zM125 273h1v1h-1zM125 274h1v1h-1zM125 275h1v1h-1zM125 276h1v1h-1zM125 277h1v1h-1zM125 278h1v1h-1zM125 279h1v1h-1zM125 281h1v1h-1zM125 282h1v1h-1zM125 283h1v1h-1zM125 284h1v1h-1zM125 285h1v1h-1zM125 286h1v1h-1zM125 287h1v1h-1zM125 288h1v1h-1zM125 289h1v1h-1zM125 290h1v1h-1zM125 291h1v1h-1zM125 292h1v1h-1zM125 293h1v1h-1zM125 294h1v1h-1zM125 295h1v1h-1zM125 296h1v1h-1zM125 297h1v1h-1zM125 298h1v1h-1zM125 299h1v1h-1zM125 301h1v1h-1zM125 302h1v1h-1zM125 303h1v1h-1zM125 304h1v1h-1zM125 306h1v1h-1zM125 307h1v1h-1zM125 308h1v1h-1zM125 309h1v1h-1zM125 311h1v1h-1zM125 312h1v1h-1zM125 313h1v1h-1zM125 314h1v1h-1zM125 315h1v1h-1zM125 321h1v1h-1zM125 323h1v1h-1zM125 329h1v1h-1zM125 332h1v1h-1zM126 264h1v1h-1zM126 266h1v1h-1zM126 268h1v1h-1zM126 270h1v1h-1zM126 272h1v1h-1zM126 273h1v1h-1zM126 274h1v1h-1zM126 275h1v1h-1zM126 276h1v1h-1zM126 278h1v1h-1zM126 279h1v1h-1zM126 280h1v1h-1zM126 281h1v1h-1zM126 282h1v1h-1zM126 283h1v1h-1zM126 284h1v1h-1zM126 285h1v1h-1zM126 286h1v1h-1zM126 288h1v1h-1zM126 289h1v1h-1zM126 290h1v1h-1zM126 291h1v1h-1zM126 293h1v1h-1zM126 294h1v1h-1zM126 295h1v1h-1zM126 299h1v1h-1zM126 300h1v1h-1zM126 301h1v1h-1zM126 302h1v1h-1zM126 303h1v1h-1zM126 304h1v1h-1zM126 306h1v1h-1zM126 307h1v1h-1zM126 308h1v1h-1zM126 309h1v1h-1zM126 311h1v1h-1zM126 312h1v1h-1zM126 313h1v1h-1zM126 314h1v1h-1zM126 315h1v1h-1zM126 316h1v1h-1zM126 318h1v1h-1zM126 319h1v1h-1zM126 320h1v1h-1zM126 322h1v1h-1zM126 327h1v1h-1zM126 330h1v1h-1zM127 262h1v1h-1zM127 265h1v1h-1zM127 266h1v1h-1zM127 268h1v1h-1zM127 269h1v1h-1zM127 270h1v1h-1zM127 271h1v1h-1zM127 272h1v1h-1zM127 273h1v1h-1zM127 275h1v1h-1zM127 276h1v1h-1zM127 278h1v1h-1zM127 279h1v1h-1zM127 281h1v1h-1zM127 282h1v1h-1zM127 283h1v1h-1zM127 284h1v1h-1zM127 285h1v1h-1zM127 286h1v1h-1zM127 287h1v1h-1zM127 288h1v1h-1zM127 289h1v1h-1zM127 290h1v1h-1zM127 291h1v1h-1zM127 292h1v1h-1zM127 294h1v1h-1zM127 295h1v1h-1zM127 296h1v1h-1zM127 298h1v1h-1zM127 299h1v1h-1zM127 302h1v1h-1zM127 303h1v1h-1zM127 304h1v1h-1zM127 305h1v1h-1zM127 306h1v1h-1zM127 307h1v1h-1zM127 308h1v1h-1zM127 309h1v1h-1zM127 310h1v1h-1zM127 312h1v1h-1zM127 313h1v1h-1zM127 314h1v1h-1zM127 315h1v1h-1zM127 317h1v1h-1zM127 320h1v1h-1zM127 327h1v1h-1zM127 328h1v1h-1zM128 270h1v1h-1zM128 272h1v1h-1zM128 274h1v1h-1zM128 275h1v1h-1zM128 277h1v1h-1zM128 279h1v1h-1zM128 281h1v1h-1zM128 282h1v1h-1zM128 283h1v1h-1zM128 284h1v1h-1zM128 285h1v1h-1zM128 286h1v1h-1zM128 287h1v1h-1zM128 289h1v1h-1zM128 291h1v1h-1zM128 292h1v1h-1zM128 293h1v1h-1zM128 294h1v1h-1zM128 295h1v1h-1zM128 296h1v1h-1zM128 297h1v1h-1zM128 298h1v1h-1zM128 301h1v1h-1zM128 302h1v1h-1zM128 304h1v1h-1zM128 305h1v1h-1zM128 307h1v1h-1zM128 309h1v1h-1zM128 311h1v1h-1zM128 313h1v1h-1zM128 314h1v1h-1zM128 315h1v1h-1zM128 316h1v1h-1zM128 320h1v1h-1zM128 323h1v1h-1zM128 336h1v1h-1zM129 265h1v1h-1zM129 266h1v1h-1zM129 267h1v1h-1zM129 268h1v1h-1zM129 275h1v1h-1zM129 276h1v1h-1zM129 277h1v1h-1zM129 278h1v1h-1zM129 280h1v1h-1zM129 281h1v1h-1zM129 284h1v1h-1zM129 286h1v1h-1zM129 287h1v1h-1zM129 290h1v1h-1zM129 291h1v1h-1zM129 293h1v1h-1zM129 294h1v1h-1zM129 302h1v1h-1zM129 306h1v1h-1zM129 308h1v1h-1zM129 310h1v1h-1zM129 322h1v1h-1zM129 323h1v1h-1zM129 325h1v1h-1zM130 264h1v1h-1zM130 266h1v1h-1zM130 270h1v1h-1zM130 272h1v1h-1zM130 273h1v1h-1zM130 275h1v1h-1zM130 276h1v1h-1zM130 281h1v1h-1zM130 282h1v1h-1zM130 283h1v1h-1zM130 284h1v1h-1zM130 285h1v1h-1zM130 287h1v1h-1zM130 288h1v1h-1zM130 289h1v1h-1zM130 290h1v1h-1zM130 291h1v1h-1zM130 294h1v1h-1zM130 297h1v1h-1zM130 301h1v1h-1zM130 303h1v1h-1zM130 306h1v1h-1zM130 322h1v1h-1zM130 329h1v1h-1zM130 331h1v1h-1zM131 265h1v1h-1zM131 269h1v1h-1zM131 272h1v1h-1zM131 276h1v1h-1zM131 277h1v1h-1zM131 282h1v1h-1zM131 285h1v1h-1zM131 293h1v1h-1zM131 294h1v1h-1zM131 296h1v1h-1zM131 297h1v1h-1zM131 301h1v1h-1zM131 305h1v1h-1zM131 306h1v1h-1zM131 309h1v1h-1zM131 311h1v1h-1zM131 312h1v1h-1zM131 314h1v1h-1zM131 323h1v1h-1zM131 330h1v1h-1zM132 261h1v1h-1zM132 263h1v1h-1zM132 264h1v1h-1zM132 269h1v1h-1zM132 275h1v1h-1zM132 280h1v1h-1zM132 281h1v1h-1zM132 282h1v1h-1zM132 283h1v1h-1zM132 285h1v1h-1zM132 288h1v1h-1zM132 292h1v1h-1zM132 293h1v1h-1zM132 295h1v1h-1zM132 298h1v1h-1zM132 299h1v1h-1zM132 309h1v1h-1zM132 312h1v1h-1zM132 321h1v1h-1zM132 323h1v1h-1zM133 261h1v1h-1zM133 276h1v1h-1zM133 280h1v1h-1zM133 289h1v1h-1zM133 291h1v1h-1zM133 292h1v1h-1zM133 295h1v1h-1zM133 296h1v1h-1zM133 305h1v1h-1zM133 308h1v1h-1zM133 322h1v1h-1zM133 326h1v1h-1zM134 266h1v1h-1zM134 267h1v1h-1zM134 273h1v1h-1zM134 279h1v1h-1zM134 280h1v1h-1zM134 281h1v1h-1zM134 282h1v1h-1zM134 284h1v1h-1zM134 297h1v1h-1zM134 298h1v1h-1zM134 299h1v1h-1zM134 300h1v1h-1zM134 330h1v1h-1zM135 271h1v1h-1zM135 283h1v1h-1zM135 288h1v1h-1zM135 290h1v1h-1zM135 291h1v1h-1zM135 293h1v1h-1zM135 314h1v1h-1zM136 263h1v1h-1zM136 266h1v1h-1zM136 286h1v1h-1zM136 287h1v1h-1zM136 315h1v1h-1zM136 318h1v1h-1zM137 270h1v1h-1zM137 278h1v1h-1zM137 286h1v1h-1zM137 288h1v1h-1zM137 294h1v1h-1zM137 296h1v1h-1zM137 303h1v1h-1zM137 309h1v1h-1zM137 335h1v1h-1zM138 271h1v1h-1zM138 280h1v1h-1zM138 282h1v1h-1zM139 292h1v1h-1zM139 322h1v1h-1zM140 277h1v1h-1zM140 279h1v1h-1zM140 294h1v1h-1zM140 310h1v1h-1zM141 299h1v1h-1zM142 274h1v1h-1zM143 275h1v1h-1zM145 267h1v1h-1zM156 269h1v1h-1z" fill="#000"/>
<path d="M75.6 338.5 V224.8 H187.8 V338.5" fill="none" stroke="#444" stroke-width="1.3"/>
<line x1="75.0" y1="338.5" x2="188.4" y2="338.5" stroke="#111" stroke-width="1.6" stroke-linecap="butt"/>
<line x1="75.6" y1="224.8" x2="75.6" y2="338.5" stroke="#222" stroke-width="1.4" stroke-linecap="butt"/>
<line x1="73.0" y1="335.94060486784946" x2="75.6" y2="335.94060486784946" stroke="#222" stroke-width="1.0" stroke-linecap="butt"/>
<line x1="73.0" y1="332.44232024281706" x2="75.6" y2="332.44232024281706" stroke="#222" stroke-width="1.0" stroke-linecap="butt"/>
<line x1="73.0" y1="329.7288398785915" x2="75.6" y2="329.7288398785915" stroke="#222" stroke-width="1.0" stroke-linecap="butt"/>
<line x1="73.0" y1="327.511764989258" x2="75.6" y2="327.511764989258" stroke="#222" stroke-width="1.0" stroke-linecap="butt"/>
<line x1="73.0" y1="325.63725487960085" x2="75.6" y2="325.63725487960085" stroke="#222" stroke-width="1.0" stroke-linecap="butt"/>
<line x1="73.0" y1="324.0134803642256" x2="75.6" y2="324.0134803642256" stroke="#222" stroke-width="1.0" stroke-linecap="butt"/>
<line x1="73.0" y1="322.5812097356989" x2="75.6" y2="322.5812097356989" stroke="#222" stroke-width="1.0" stroke-linecap="butt"/>
<line x1="71.0" y1="321.3" x2="75.6" y2="321.3" stroke="#111" stroke-width="1.1" stroke-linecap="butt"/>
<line x1="73.0" y1="312.87116012140854" x2="75.6" y2="312.87116012140854" stroke="#222" stroke-width="1.0" stroke-linecap="butt"/>
<line x1="73.0" y1="307.94060486784946" x2="75.6" y2="307.94060486784946" stroke="#222" stroke-width="1.0" stroke-linecap="butt"/>
<line x1="73.0" y1="304.44232024281706" x2="75.6" y2="304.44232024281706" stroke="#222" stroke-width="1.0" stroke-linecap="butt"/>
<line x1="73.0" y1="301.7288398785915" x2="75.6" y2="301.7288398785915" stroke="#222" stroke-width="1.0" stroke-linecap="butt"/>
<line x1="73.0" y1="299.511764989258" x2="75.6" y2="299.511764989258" stroke="#222" stroke-width="1.0" stroke-linecap="butt"/>
<line x1="73.0" y1="297.63725487960085" x2="75.6" y2="297.63725487960085" stroke="#222" stroke-width="1.0" stroke-linecap="butt"/>
<line x1="73.0" y1="296.0134803642256" x2="75.6" y2="296.0134803642256" stroke="#222" stroke-width="1.0" stroke-linecap="butt"/>
<line x1="73.0" y1="294.5812097356989" x2="75.6" y2="294.5812097356989" stroke="#222" stroke-width="1.0" stroke-linecap="butt"/>
<line x1="71.0" y1="293.3" x2="75.6" y2="293.3" stroke="#111" stroke-width="1.1" stroke-linecap="butt"/>
<line x1="73.0" y1="284.87116012140854" x2="75.6" y2="284.87116012140854" stroke="#222" stroke-width="1.0" stroke-linecap="butt"/>
<line x1="73.0" y1="279.94060486784946" x2="75.6" y2="279.94060486784946" stroke="#222" stroke-width="1.0" stroke-linecap="butt"/>
<line x1="73.0" y1="276.44232024281706" x2="75.6" y2="276.44232024281706" stroke="#222" stroke-width="1.0" stroke-linecap="butt"/>
<line x1="73.0" y1="273.7288398785915" x2="75.6" y2="273.7288398785915" stroke="#222" stroke-width="1.0" stroke-linecap="butt"/>
<line x1="73.0" y1="271.511764989258" x2="75.6" y2="271.511764989258" stroke="#222" stroke-width="1.0" stroke-linecap="butt"/>
<line x1="73.0" y1="269.63725487960085" x2="75.6" y2="269.63725487960085" stroke="#222" stroke-width="1.0" stroke-linecap="butt"/>
<line x1="73.0" y1="268.0134803642256" x2="75.6" y2="268.0134803642256" stroke="#222" stroke-width="1.0" stroke-linecap="butt"/>
<line x1="73.0" y1="266.5812097356989" x2="75.6" y2="266.5812097356989" stroke="#222" stroke-width="1.0" stroke-linecap="butt"/>
<line x1="71.0" y1="265.3" x2="75.6" y2="265.3" stroke="#111" stroke-width="1.1" stroke-linecap="butt"/>
<line x1="73.0" y1="256.87116012140854" x2="75.6" y2="256.87116012140854" stroke="#222" stroke-width="1.0" stroke-linecap="butt"/>
<line x1="73.0" y1="251.94060486784946" x2="75.6" y2="251.94060486784946" stroke="#222" stroke-width="1.0" stroke-linecap="butt"/>
<line x1="73.0" y1="248.44232024281706" x2="75.6" y2="248.44232024281706" stroke="#222" stroke-width="1.0" stroke-linecap="butt"/>
<line x1="73.0" y1="245.7288398785915" x2="75.6" y2="245.7288398785915" stroke="#222" stroke-width="1.0" stroke-linecap="butt"/>
<line x1="73.0" y1="243.51176498925798" x2="75.6" y2="243.51176498925798" stroke="#222" stroke-width="1.0" stroke-linecap="butt"/>
<line x1="73.0" y1="241.63725487960082" x2="75.6" y2="241.63725487960082" stroke="#222" stroke-width="1.0" stroke-linecap="butt"/>
<line x1="73.0" y1="240.0134803642256" x2="75.6" y2="240.0134803642256" stroke="#222" stroke-width="1.0" stroke-linecap="butt"/>
<line x1="73.0" y1="238.5812097356989" x2="75.6" y2="238.5812097356989" stroke="#222" stroke-width="1.0" stroke-linecap="butt"/>
<line x1="71.0" y1="237.3" x2="75.6" y2="237.3" stroke="#111" stroke-width="1.1" stroke-linecap="butt"/>
<line x1="73.0" y1="228.87116012140854" x2="75.6" y2="228.87116012140854" stroke="#222" stroke-width="1.0" stroke-linecap="butt"/>
<g transform="translate(69.8 322.60) rotate(-90)"><text x="0" y="0" font-size="7" font-family='"Liberation Sans", sans-serif' text-anchor="middle" stroke="#000" stroke-width="0.15">10</text><text x="3.7" y="-3.4" font-size="6" stroke="#000" stroke-width="0.15" font-family='"Liberation Sans", sans-serif'>2</text></g>
<g transform="translate(69.8 294.60) rotate(-90)"><text x="0" y="0" font-size="7" font-family='"Liberation Sans", sans-serif' text-anchor="middle" stroke="#000" stroke-width="0.15">10</text><text x="3.7" y="-3.4" font-size="6" stroke="#000" stroke-width="0.15" font-family='"Liberation Sans", sans-serif'>3</text></g>
<g transform="translate(69.8 266.60) rotate(-90)"><text x="0" y="0" font-size="7" font-family='"Liberation Sans", sans-serif' text-anchor="middle" stroke="#000" stroke-width="0.15">10</text><text x="3.7" y="-3.4" font-size="6" stroke="#000" stroke-width="0.15" font-family='"Liberation Sans", sans-serif'>4</text></g>
<g transform="translate(69.8 238.60) rotate(-90)"><text x="0" y="0" font-size="7" font-family='"Liberation Sans", sans-serif' text-anchor="middle" stroke="#000" stroke-width="0.15">10</text><text x="3.7" y="-3.4" font-size="6" stroke="#000" stroke-width="0.15" font-family='"Liberation Sans", sans-serif'>5</text></g>
<line x1="79.012" y1="338.5" x2="79.012" y2="342.1" stroke="#222" stroke-width="1.0" stroke-linecap="butt"/>
<line x1="83.324" y1="338.5" x2="83.324" y2="342.1" stroke="#222" stroke-width="1.0" stroke-linecap="butt"/>
<line x1="87.636" y1="338.5" x2="87.636" y2="342.1" stroke="#222" stroke-width="1.0" stroke-linecap="butt"/>
<line x1="91.94800000000001" y1="338.5" x2="91.94800000000001" y2="342.1" stroke="#222" stroke-width="1.0" stroke-linecap="butt"/>
<line x1="96.26" y1="338.5" x2="96.26" y2="343.5" stroke="#111" stroke-width="1.1" stroke-linecap="butt"/>
<line x1="100.572" y1="338.5" x2="100.572" y2="342.1" stroke="#222" stroke-width="1.0" stroke-linecap="butt"/>
<line x1="104.884" y1="338.5" x2="104.884" y2="342.1" stroke="#222" stroke-width="1.0" stroke-linecap="butt"/>
<line x1="109.196" y1="338.5" x2="109.196" y2="342.1" stroke="#222" stroke-width="1.0" stroke-linecap="butt"/>
<line x1="113.50800000000001" y1="338.5" x2="113.50800000000001" y2="342.1" stroke="#222" stroke-width="1.0" stroke-linecap="butt"/>
<line x1="117.82" y1="338.5" x2="117.82" y2="343.5" stroke="#111" stroke-width="1.1" stroke-linecap="butt"/>
<line x1="122.132" y1="338.5" x2="122.132" y2="342.1" stroke="#222" stroke-width="1.0" stroke-linecap="butt"/>
<line x1="126.44399999999999" y1="338.5" x2="126.44399999999999" y2="342.1" stroke="#222" stroke-width="1.0" stroke-linecap="butt"/>
<line x1="130.756" y1="338.5" x2="130.756" y2="342.1" stroke="#222" stroke-width="1.0" stroke-linecap="butt"/>
<line x1="135.06799999999998" y1="338.5" x2="135.06799999999998" y2="342.1" stroke="#222" stroke-width="1.0" stroke-linecap="butt"/>
<line x1="139.38" y1="338.5" x2="139.38" y2="343.5" stroke="#111" stroke-width="1.1" stroke-linecap="butt"/>
<line x1="143.692" y1="338.5" x2="143.692" y2="342.1" stroke="#222" stroke-width="1.0" stroke-linecap="butt"/>
<line x1="148.004" y1="338.5" x2="148.004" y2="342.1" stroke="#222" stroke-width="1.0" stroke-linecap="butt"/>
<line x1="152.316" y1="338.5" x2="152.316" y2="342.1" stroke="#222" stroke-width="1.0" stroke-linecap="butt"/>
<line x1="156.628" y1="338.5" x2="156.628" y2="342.1" stroke="#222" stroke-width="1.0" stroke-linecap="butt"/>
<line x1="160.94" y1="338.5" x2="160.94" y2="343.5" stroke="#111" stroke-width="1.1" stroke-linecap="butt"/>
<line x1="165.252" y1="338.5" x2="165.252" y2="342.1" stroke="#222" stroke-width="1.0" stroke-linecap="butt"/>
<line x1="169.56400000000002" y1="338.5" x2="169.56400000000002" y2="342.1" stroke="#222" stroke-width="1.0" stroke-linecap="butt"/>
<line x1="173.87599999999998" y1="338.5" x2="173.87599999999998" y2="342.1" stroke="#222" stroke-width="1.0" stroke-linecap="butt"/>
<line x1="178.188" y1="338.5" x2="178.188" y2="342.1" stroke="#222" stroke-width="1.0" stroke-linecap="butt"/>
<line x1="182.5" y1="338.5" x2="182.5" y2="343.5" stroke="#111" stroke-width="1.1" stroke-linecap="butt"/>
<line x1="186.812" y1="338.5" x2="186.812" y2="342.1" stroke="#222" stroke-width="1.0" stroke-linecap="butt"/>
<text x="93.19" y="352.5" font-size="7.2" font-family='"Liberation Sans", sans-serif' textLength="5.80" lengthAdjust="spacingAndGlyphs" fill="#000" stroke="#000" stroke-width="0.25">50</text>
<text x="113.32" y="352.5" font-size="7.2" font-family='"Liberation Sans", sans-serif' textLength="9.66" lengthAdjust="spacingAndGlyphs" fill="#000" stroke="#000" stroke-width="0.25">100</text>
<text x="133.95" y="352.5" font-size="7.2" font-family='"Liberation Sans", sans-serif' textLength="10.03" lengthAdjust="spacingAndGlyphs" fill="#000" stroke="#000" stroke-width="0.25">150</text>
<text x="155.30" y="352.5" font-size="7.2" font-family='"Liberation Sans", sans-serif' textLength="9.93" lengthAdjust="spacingAndGlyphs" fill="#000" stroke="#000" stroke-width="0.25">200</text>
<text x="176.58" y="352.5" font-size="7.2" font-family='"Liberation Sans", sans-serif' textLength="10.56" lengthAdjust="spacingAndGlyphs" fill="#000" stroke="#000" stroke-width="0.25">250</text>
<text x="162.61" y="360.0" font-size="6.6" font-family='"Liberation Sans", sans-serif' textLength="25.76" lengthAdjust="spacingAndGlyphs" fill="#000" stroke="#000" stroke-width="0.2">(x 1,000)</text>
<rect x="96.50" y="255.30" width="47.60" height="28.50" fill="none" stroke="#000" stroke-width="1.9" rx="1.6"/>
<rect x="95.50" y="314.40" width="48.40" height="24.00" fill="none" stroke="#000" stroke-width="1.9" rx="1.6"/>
<text x="148.48" y="269.9" font-size="13.2" font-family='"Liberation Sans", sans-serif' textLength="19.25" lengthAdjust="spacingAndGlyphs" fill="#000" stroke="#000" stroke-width="0.3">c-kit</text>
<text x="168.62" y="264.3" font-size="9.7" font-family='"Liberation Sans", sans-serif' textLength="16.93" lengthAdjust="spacingAndGlyphs" fill="#000" stroke="#000" stroke-width="0.3">high</text>
<text x="148.88" y="330.6" font-size="13.2" font-family='"Liberation Sans", sans-serif' textLength="19.35" lengthAdjust="spacingAndGlyphs" fill="#000" stroke="#000" stroke-width="0.3">c-kit</text>
<text x="169.54" y="323.7" font-size="8.8" font-family='"Liberation Sans", sans-serif' textLength="13.03" lengthAdjust="spacingAndGlyphs" fill="#000" stroke="#000" stroke-width="0.3">low</text>
<path d="M53.75 311.5 V363.75 H91.8" fill="none" stroke="#000" stroke-width="1.7"/>
<path d="M48.6 322.6 L53.75 311.2 L58.9 322.6" fill="none" stroke="#000" stroke-width="1.7"/>
<path d="M85.2 358.0 L92.6 363.75 L85.2 369.5" fill="none" stroke="#000" stroke-width="1.7"/>
<text x="56.8" y="304.32" font-size="11.2" font-family='"Liberation Sans", sans-serif' textLength="25.78" lengthAdjust="spacingAndGlyphs" transform="rotate(-90 56.8 304.32)" fill="#000" stroke="#000" stroke-width="0.3">c-Kit</text>
<text x="97.25" y="367.5" font-size="11.3" font-family='"Liberation Sans", sans-serif' textLength="21.22" lengthAdjust="spacingAndGlyphs" fill="#000" stroke="#000" stroke-width="0.25">FSC</text>
<text x="207.97" y="222.75" font-size="14.7" font-weight="bold" font-family='"Liberation Sans", sans-serif' textLength="10.31" lengthAdjust="spacingAndGlyphs" fill="#000">D</text>
<line x1="269.0" y1="230.6" x2="269.0" y2="368.6" stroke="#000" stroke-width="2.6" stroke-linecap="round"/>
<line x1="268.0" y1="367.2" x2="346.8" y2="367.2" stroke="#000" stroke-width="2.8" stroke-linecap="butt"/>
<line x1="346.6" y1="367.2" x2="346.6" y2="370.4" stroke="#000" stroke-width="1.6" stroke-linecap="round"/>
<line x1="266.4" y1="367.2" x2="268.6" y2="367.2" stroke="#000" stroke-width="1.2" stroke-linecap="butt"/>
<text x="259.08" y="370.7" font-size="10.2" font-family='"Liberation Sans", sans-serif' textLength="5.05" lengthAdjust="spacingAndGlyphs" fill="#000" stroke="#000" stroke-width="0.3">0</text>
<line x1="266.4" y1="344.45" x2="268.6" y2="344.45" stroke="#000" stroke-width="1.2" stroke-linecap="butt"/>
<text x="249.77" y="347.95" font-size="10.2" font-family='"Liberation Sans", sans-serif' textLength="14.36" lengthAdjust="spacingAndGlyphs" fill="#000" stroke="#000" stroke-width="0.3">200</text>
<line x1="266.4" y1="321.7" x2="268.6" y2="321.7" stroke="#000" stroke-width="1.2" stroke-linecap="butt"/>
<text x="249.63" y="325.2" font-size="10.2" font-family='"Liberation Sans", sans-serif' textLength="14.51" lengthAdjust="spacingAndGlyphs" fill="#000" stroke="#000" stroke-width="0.3">400</text>
<line x1="266.4" y1="298.95" x2="268.6" y2="298.95" stroke="#000" stroke-width="1.2" stroke-linecap="butt"/>
<text x="249.36" y="302.45" font-size="10.2" font-family='"Liberation Sans", sans-serif' textLength="14.78" lengthAdjust="spacingAndGlyphs" fill="#000" stroke="#000" stroke-width="0.3">600</text>
<line x1="266.4" y1="276.2" x2="268.6" y2="276.2" stroke="#000" stroke-width="1.2" stroke-linecap="butt"/>
<text x="249.24" y="279.7" font-size="10.2" font-family='"Liberation Sans", sans-serif' textLength="14.90" lengthAdjust="spacingAndGlyphs" fill="#000" stroke="#000" stroke-width="0.3">800</text>
<line x1="266.4" y1="253.45" x2="268.6" y2="253.45" stroke="#000" stroke-width="1.2" stroke-linecap="butt"/>
<text x="245.58" y="256.95" font-size="10.2" font-family='"Liberation Sans", sans-serif' textLength="18.51" lengthAdjust="spacingAndGlyphs" fill="#000" stroke="#000" stroke-width="0.3">1000</text>
<line x1="266.4" y1="230.7" x2="268.6" y2="230.7" stroke="#000" stroke-width="1.2" stroke-linecap="butt"/>
<text x="245.58" y="234.2" font-size="10.2" font-family='"Liberation Sans", sans-serif' textLength="18.51" lengthAdjust="spacingAndGlyphs" fill="#000" stroke="#000" stroke-width="0.3">1200</text>
<line x1="296.6" y1="246.9" x2="296.6" y2="262" stroke="#000" stroke-width="1.0" stroke-linecap="butt"/>
<rect x="285.85" y="261.10" width="21.55" height="105.00" fill="#323232" stroke="#000" stroke-width="2.2"/>
<line x1="296.6" y1="262" x2="296.6" y2="277" stroke="#5a5a5a" stroke-width="1.0" stroke-linecap="butt"/>
<rect x="308.60" y="356.70" width="20.90" height="9.40" fill="#fff" stroke="#000" stroke-width="2.2"/>
<line x1="318.8" y1="353.0" x2="318.8" y2="361.4" stroke="#000" stroke-width="1.0" stroke-linecap="butt"/>
<line x1="317.8" y1="353.4" x2="319.8" y2="353.4" stroke="#000" stroke-width="0.8" stroke-linecap="butt"/>
<line x1="317.8" y1="361.0" x2="319.8" y2="361.0" stroke="#000" stroke-width="0.8" stroke-linecap="butt"/>
<rect x="307.60" y="222.35" width="7.30" height="9.05" fill="#fff" stroke="#000" stroke-width="2.2"/>
<text x="318.97" y="230.6" font-size="11.3" font-family='"Liberation Sans", sans-serif' textLength="19.82" lengthAdjust="spacingAndGlyphs" fill="#000" stroke="#000" stroke-width="0.3">c-kit</text>
<text x="340.69" y="224.4" font-size="7.9" font-family='"Liberation Sans", sans-serif' textLength="13.03" lengthAdjust="spacingAndGlyphs" fill="#000" stroke="#000" stroke-width="0.3">low</text>
<rect x="307.90" y="240.40" width="7.35" height="9.20" fill="#3a3a3a" stroke="#000" stroke-width="2.0"/>
<text x="318.98" y="248.75" font-size="11.3" font-family='"Liberation Sans", sans-serif' textLength="19.15" lengthAdjust="spacingAndGlyphs" fill="#000" stroke="#000" stroke-width="0.3">c-kit</text>
<text x="340.72" y="243.1" font-size="9.4" font-family='"Liberation Sans", sans-serif' textLength="15.37" lengthAdjust="spacingAndGlyphs" fill="#000" stroke="#000" stroke-width="0.3">high</text>
<text x="243.6" y="360.4" font-size="10" font-family='"Liberation Sans", sans-serif' transform="rotate(-90 243.6 360.4)" textLength="129.8" lengthAdjust="spacingAndGlyphs">Colony Number (1&#215;10<tspan font-size="7" dy="-4">4</tspan><tspan dy="4">Cells)</tspan></text>
<text x="373.79" y="220.3" font-size="14.6" font-weight="bold" font-family='"Liberation Sans", sans-serif' textLength="9.33" lengthAdjust="spacingAndGlyphs" fill="#000">E</text>
<line x1="424.6" y1="230.4" x2="424.6" y2="368.0" stroke="#000" stroke-width="2.8" stroke-linecap="round"/>
<line x1="423.4" y1="366.8" x2="502.8" y2="366.8" stroke="#000" stroke-width="2.8" stroke-linecap="butt"/>
<line x1="502.6" y1="366.8" x2="502.6" y2="370.0" stroke="#000" stroke-width="1.6" stroke-linecap="round"/>
<line x1="421.8" y1="366.8" x2="424" y2="366.8" stroke="#000" stroke-width="1.2" stroke-linecap="butt"/>
<text x="413.77" y="370.3" font-size="9.8" font-family='"Liberation Sans", sans-serif' textLength="5.28" lengthAdjust="spacingAndGlyphs" fill="#000" stroke="#000" stroke-width="0.3">0</text>
<line x1="421.8" y1="347.6" x2="424" y2="347.6" stroke="#000" stroke-width="1.2" stroke-linecap="butt"/>
<text x="406.79" y="351.1" font-size="9.8" font-family='"Liberation Sans", sans-serif' textLength="12.26" lengthAdjust="spacingAndGlyphs" fill="#000" stroke="#000" stroke-width="0.3">0.5</text>
<line x1="421.8" y1="328.40000000000003" x2="424" y2="328.40000000000003" stroke="#000" stroke-width="1.2" stroke-linecap="butt"/>
<text x="407.48" y="331.9" font-size="9.8" font-family='"Liberation Sans", sans-serif' textLength="11.51" lengthAdjust="spacingAndGlyphs" fill="#000" stroke="#000" stroke-width="0.3">1.0</text>
<line x1="421.8" y1="309.20000000000005" x2="424" y2="309.20000000000005" stroke="#000" stroke-width="1.2" stroke-linecap="butt"/>
<text x="406.63" y="312.7" font-size="9.8" font-family='"Liberation Sans", sans-serif' textLength="12.43" lengthAdjust="spacingAndGlyphs" fill="#000" stroke="#000" stroke-width="0.3">1.5</text>
<line x1="421.8" y1="290.0" x2="424" y2="290.0" stroke="#000" stroke-width="1.2" stroke-linecap="butt"/>
<text x="406.45" y="293.5" font-size="9.8" font-family='"Liberation Sans", sans-serif' textLength="12.57" lengthAdjust="spacingAndGlyphs" fill="#000" stroke="#000" stroke-width="0.3">2.0</text>
<line x1="421.8" y1="270.8" x2="424" y2="270.8" stroke="#000" stroke-width="1.2" stroke-linecap="butt"/>
<text x="406.45" y="274.3" font-size="9.8" font-family='"Liberation Sans", sans-serif' textLength="12.62" lengthAdjust="spacingAndGlyphs" fill="#000" stroke="#000" stroke-width="0.3">2.5</text>
<line x1="421.8" y1="251.60000000000002" x2="424" y2="251.60000000000002" stroke="#000" stroke-width="1.2" stroke-linecap="butt"/>
<text x="406.59" y="255.1" font-size="9.8" font-family='"Liberation Sans", sans-serif' textLength="12.43" lengthAdjust="spacingAndGlyphs" fill="#000" stroke="#000" stroke-width="0.3">3.0</text>
<line x1="421.8" y1="232.4" x2="424" y2="232.4" stroke="#000" stroke-width="1.2" stroke-linecap="butt"/>
<text x="406.38" y="235.9" font-size="9.8" font-family='"Liberation Sans", sans-serif' textLength="12.69" lengthAdjust="spacingAndGlyphs" fill="#000" stroke="#000" stroke-width="0.3">3.5</text>
<line x1="452.3" y1="239.0" x2="452.3" y2="259" stroke="#000" stroke-width="1.0" stroke-linecap="butt"/>
<rect x="441.10" y="259.00" width="22.20" height="106.70" fill="#323232" stroke="#000" stroke-width="2.2"/>
<line x1="452.3" y1="260" x2="452.3" y2="279.7" stroke="#5a5a5a" stroke-width="1.0" stroke-linecap="butt"/>
<rect x="464.40" y="328.00" width="21.20" height="37.70" fill="#fff" stroke="#000" stroke-width="2.2"/>
<rect x="466.70" y="222.10" width="7.20" height="9.30" fill="#fff" stroke="#000" stroke-width="2.2"/>
<text x="478.08" y="230.6" font-size="11.3" font-family='"Liberation Sans", sans-serif' textLength="19.46" lengthAdjust="spacingAndGlyphs" fill="#000" stroke="#000" stroke-width="0.3">c-kit</text>
<text x="500.04" y="224.0" font-size="7.9" font-family='"Liberation Sans", sans-serif' textLength="13.03" lengthAdjust="spacingAndGlyphs" fill="#000" stroke="#000" stroke-width="0.3">low</text>
<rect x="467.00" y="240.40" width="7.60" height="9.20" fill="#3a3a3a" stroke="#000" stroke-width="2.0"/>
<text x="478.08" y="248.75" font-size="11.3" font-family='"Liberation Sans", sans-serif' textLength="19.46" lengthAdjust="spacingAndGlyphs" fill="#000" stroke="#000" stroke-width="0.3">c-kit</text>
<text x="499.43" y="242.6" font-size="9.4" font-family='"Liberation Sans", sans-serif' textLength="16.71" lengthAdjust="spacingAndGlyphs" fill="#000" stroke="#000" stroke-width="0.3">high</text>
<text x="402.8" y="360.41" font-size="10.6" font-family='"Liberation Sans", sans-serif' textLength="119.31" lengthAdjust="spacingAndGlyphs" transform="rotate(-90 402.8 360.41)" fill="#000" stroke="#000" stroke-width="0.3">Relative mRNA Level</text>
</svg>
</body></html>
